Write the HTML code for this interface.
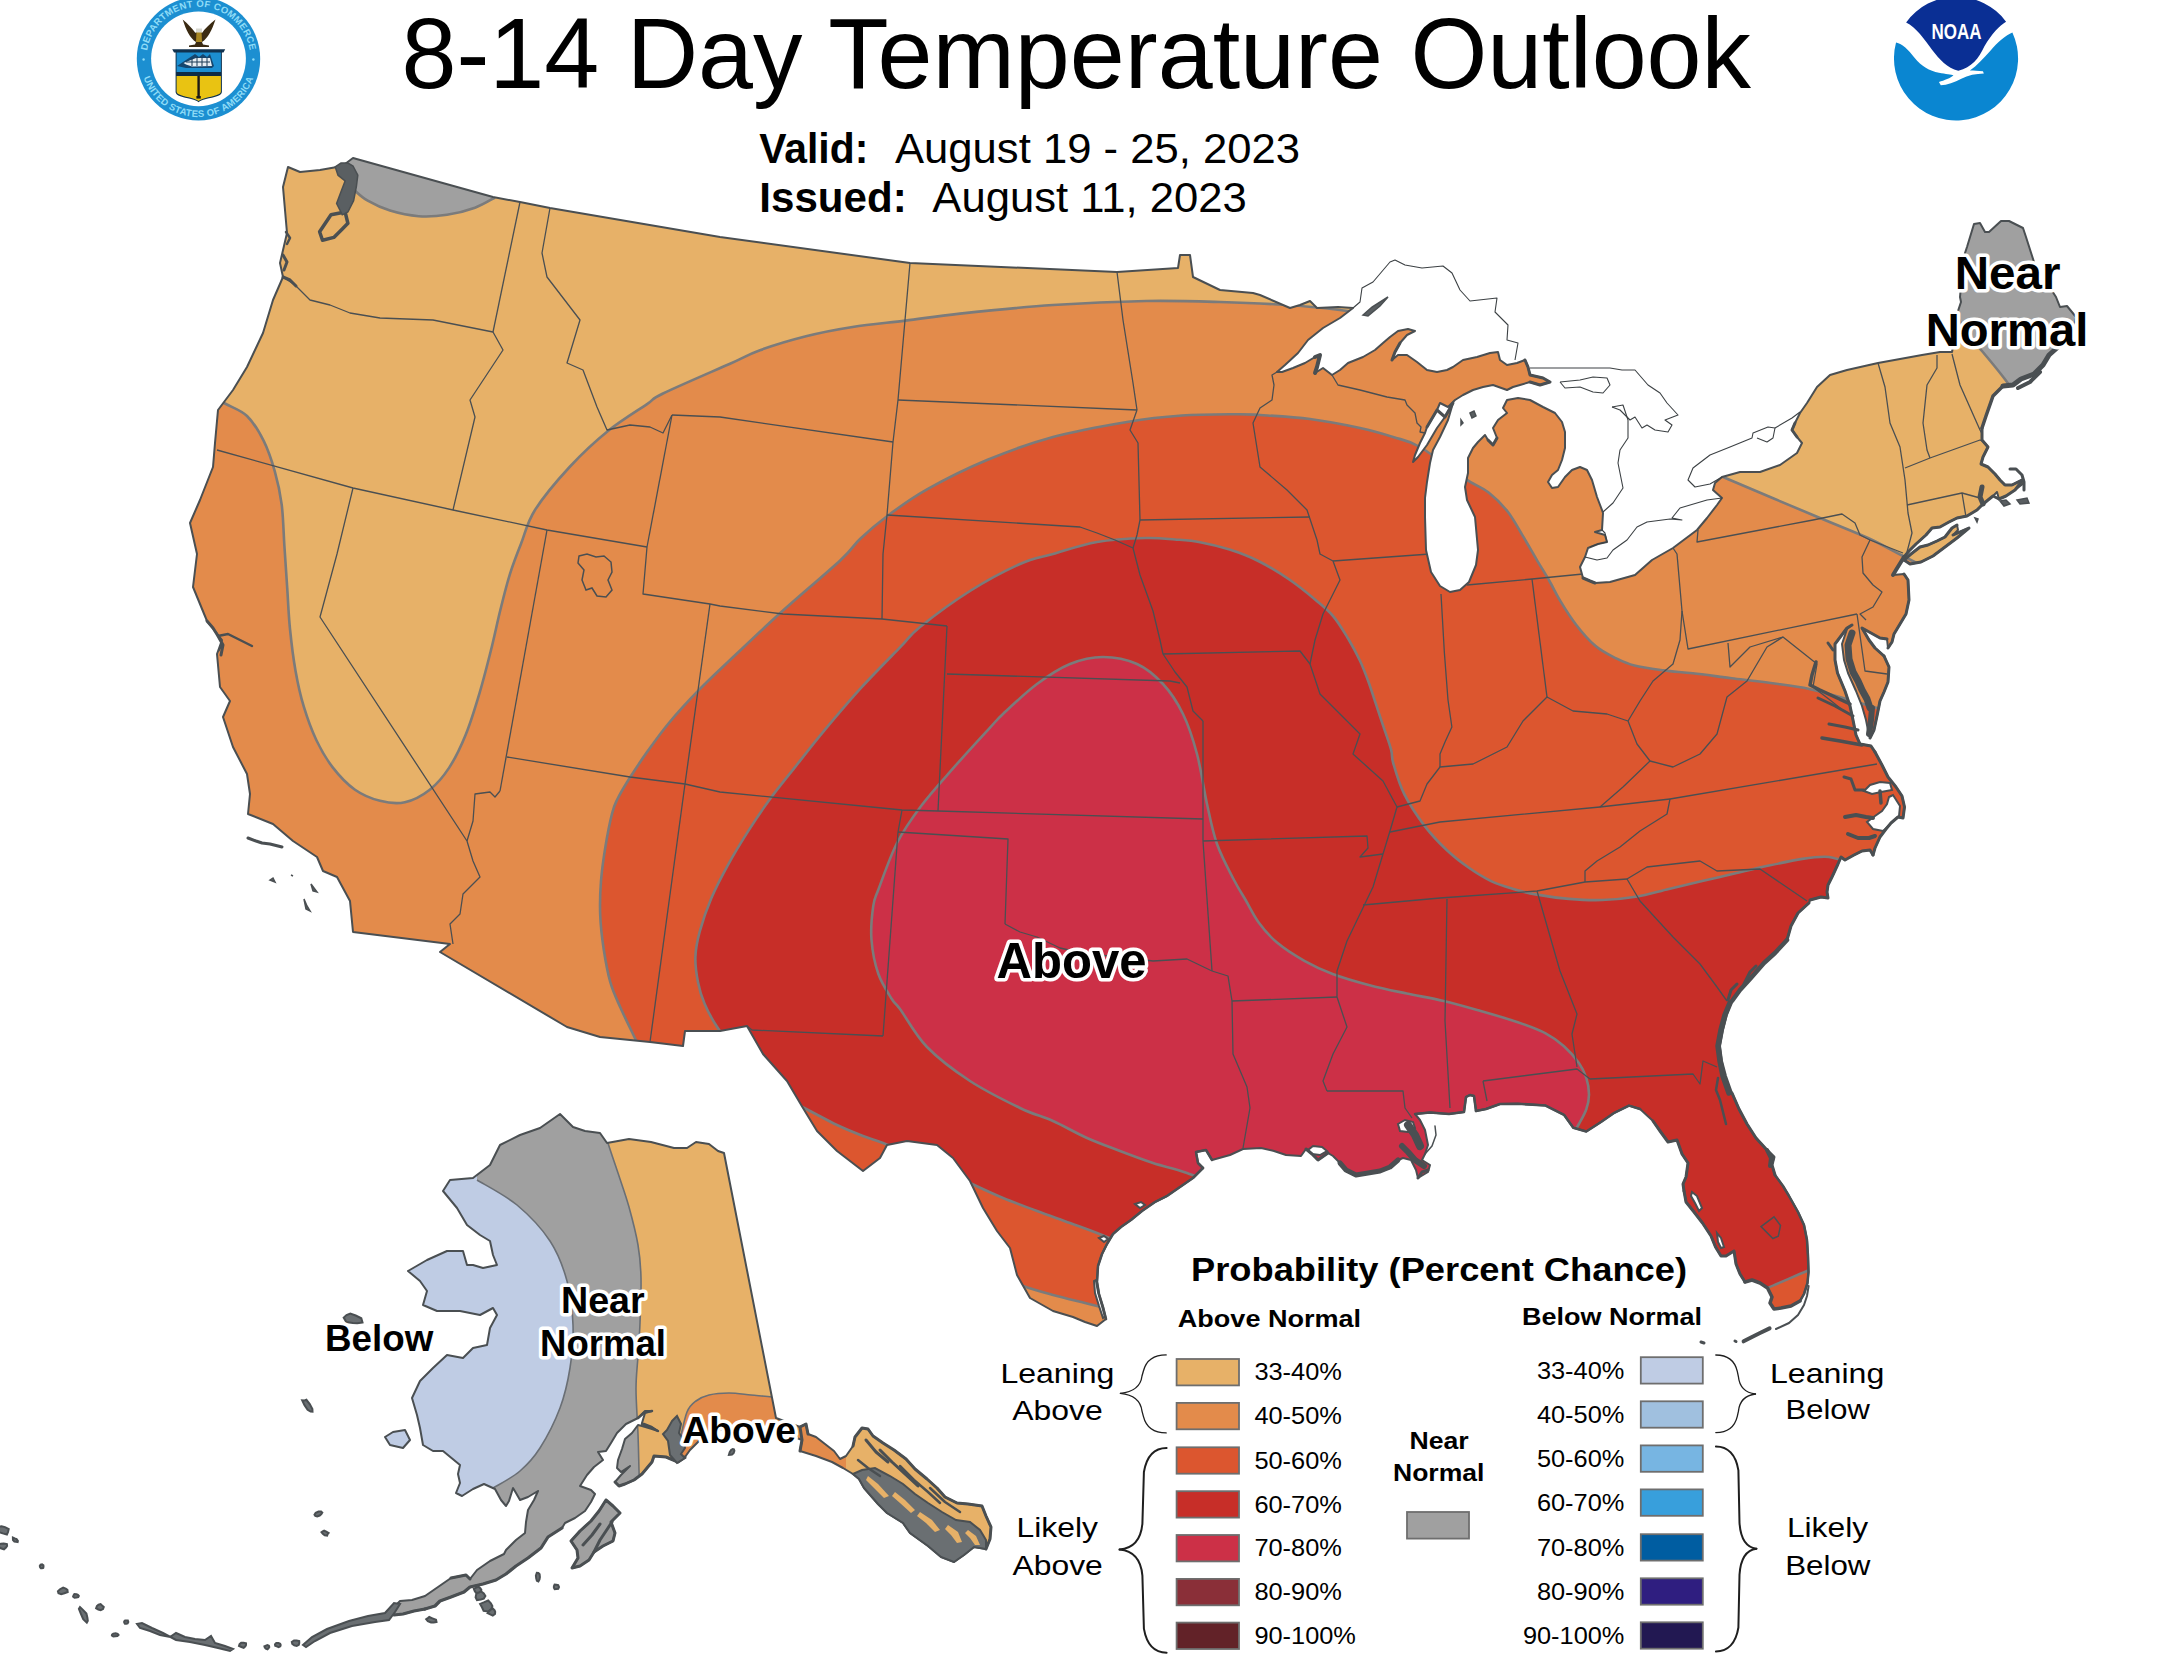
<!DOCTYPE html>
<html><head><meta charset="utf-8"><title>8-14 Day Temperature Outlook</title>
<style>html,body{margin:0;padding:0;background:#fff;}body{width:2160px;height:1662px;overflow:hidden;}svg{display:block;}text{font-family:"Liberation Sans",sans-serif;}.b{font-weight:bold;}.halo{paint-order:stroke fill;stroke:#fff;stroke-width:7px;stroke-linejoin:round;}</style></head><body>
<svg width="2160" height="1662" viewBox="0 0 2160 1662">
<rect width="2160" height="1662" fill="#fff"/>
<defs>
<clipPath id="usc"><path d="M288,167 L300,172 L320,170 L337,167 L345,164 L353,158 L493,197 L520,202 L550,208 L720,237 L910,263 L1117,272 L1178,268 L1180,255 L1190,255 L1193,277 L1220,290 L1253,293 L1260,295 L1290,308 L1300,305 L1310,301 L1317,308 L1338,307 L1353,308 L1340,318 L1323,328 L1308,340 L1298,353 L1285,365 L1277,372 L1282,372 L1293,368 L1305,363 L1315,357 L1320,355 L1317,367 L1315,373 L1323,368 L1332,375 L1340,370 L1348,363 L1363,357 L1375,350 L1383,343 L1390,337 L1398,331 L1408,329 L1415,331 L1407,335 L1400,343 L1395,352 L1392,360 L1398,355 L1407,355 L1417,362 L1427,370 L1437,372 L1447,370 L1453,367 L1463,360 L1477,357 L1490,353 L1498,352 L1500,360 L1507,365 L1517,363 L1525,360 L1528,367 L1530,375 L1543,378 L1550,382 L1540,385 L1530,382 L1520,385 L1513,387 L1507,390 L1493,385 L1483,387 L1473,390 L1463,395 L1455,400 L1448,407 L1440,403 L1437,410 L1427,427 L1425,433 L1420,443 L1415,455 L1413,462 L1418,457 L1427,445 L1437,428 L1445,417 L1453,403 L1448,420 L1440,437 L1433,450 L1430,463 L1427,482 L1425,498 L1425,517 L1426,550 L1431,572 L1440,586 L1450,592 L1460,590 L1469,582 L1476,565 L1478,550 L1475,517 L1467,500 L1465,487 L1468,473 L1468,458 L1473,448 L1478,442 L1485,435 L1488,440 L1493,445 L1497,438 L1493,428 L1498,420 L1507,413 L1503,408 L1507,400 L1518,398 L1530,400 L1543,407 L1555,413 L1562,422 L1565,432 L1565,448 L1562,460 L1558,470 L1552,475 L1548,482 L1552,488 L1558,487 L1565,477 L1572,470 L1580,467 L1587,470 L1592,480 L1597,497 L1602,510 L1603,513 L1602,530 L1595,532 L1605,535 L1607,542 L1598,544 L1588,548 L1585,557 L1580,567 L1583,578 L1595,583 L1610,582 L1635,575 L1652,560 L1673,548 L1697,530 L1707,518 L1717,505 L1722,498 L1713,490 L1715,483 L1722,477 L1740,472 L1760,472 L1780,465 L1797,453 L1802,443 L1797,437 L1792,430 L1795,423 L1800,413 L1807,403 L1817,387 L1830,375 L1847,370 L1878,363 L1922,355 L1940,352 L1952,352 L1955,335 L1958,311 L1961,302 L1960,297 L1962,275 L1965,253 L1967,247 L1974,224 L1980,223 L1985,232 L1989,232 L2001,221 L2009,221 L2023,228 L2026,237 L2034,262 L2045,280 L2056,297 L2060,307 L2067,306 L2076,317 L2075,322 L2068,335 L2058,347 L2049,355 L2043,365 L2034,374 L2021,379 L2013,385 L2003,386 L1993,396 L1986,416 L1982,428 L1982,440 L1988,447 L1983,457 L1981,464 L1988,467 L1995,474 L2000,480 L2005,485 L2012,485 L2022,480 L2024,483 L2015,490 L2006,496 L1999,499 L1997,492 L1993,496 L1988,500 L1982,505 L1977,510 L1967,516 L1957,518 L1949,522 L1940,527 L1932,528 L1926,535 L1916,544 L1909,551 L1904,557 L1896,570 L1893,575 L1904,574 L1908,580 L1909,600 L1906,614 L1900,624 L1894,634 L1892,642 L1888,648 L1887,639 L1880,638 L1862,628 L1869,640 L1875,648 L1884,656 L1889,667 L1888,682 L1884,692 L1880,701 L1877,716 L1874,730 L1870,738 L1869,735 L1866,720 L1862,706 L1856,691 L1848,673 L1844,660 L1842,644 L1847,629 L1852,625 L1847,628 L1835,644 L1835,660 L1837.5,673 L1845,691 L1850,706 L1853,720 L1856,735 L1860,744 L1871,746 L1875,752 L1882,765 L1888,777 L1896,787 L1902,796 L1904.5,807 L1903,818 L1898,817 L1891,823 L1886,829 L1880,837 L1875,848 L1873,855 L1870,850 L1862,851 L1854,855 L1845,860 L1841,857 L1838,864 L1832,877 L1828,885 L1827,892 L1828,898 L1821,897 L1810,900 L1809,903 L1798,913 L1791,926 L1787,940 L1775,953 L1764,963 L1750,979 L1740,990 L1732,1001 L1727,1014 L1723,1030 L1720,1046 L1722,1061 L1726,1076 L1732,1093 L1739,1109 L1747,1124 L1756,1138 L1766,1149 L1774,1157 L1772,1165 L1775,1175 L1783,1186 L1789,1196 L1798,1212 L1804,1225 L1807,1240 L1808,1256 L1808.5,1272 L1807.5,1283 L1804,1294 L1800,1301 L1791,1306 L1781,1308 L1774,1309 L1770,1303 L1772,1297 L1767.5,1288 L1760,1283 L1752,1280 L1745,1282 L1740,1274 L1736,1264 L1734,1251 L1726,1256 L1721,1256 L1715.5,1247 L1711,1236 L1702.5,1223 L1694,1212 L1686,1202 L1684,1191 L1683,1184 L1686,1177 L1688,1163 L1682,1154 L1677,1140 L1668,1142 L1660,1131 L1653,1121 L1640,1109 L1629,1105.6 L1614,1113 L1601,1122 L1586.3,1131.5 L1573.3,1127.8 L1564,1114.8 L1545.6,1105.6 L1517.8,1103.7 L1500,1104 L1486,1109 L1476,1111 L1474,1096 L1470,1095 L1466,1097 L1464,1112 L1449,1114 L1430,1112.5 L1415,1114 L1420,1120 L1425,1130 L1428,1145 L1425,1154 L1422,1160 L1430,1165 L1428,1172 L1418,1178 L1416,1170 L1411,1160 L1403,1158 L1396,1161 L1390,1168 L1380,1171 L1368,1173 L1355,1175 L1345,1170 L1340,1163 L1333,1156 L1328,1153 L1318,1160 L1312,1154 L1306,1149 L1301,1156 L1286,1155 L1274,1151 L1261,1148 L1243,1149 L1230,1155 L1212,1160 L1206,1150 L1196,1152 L1198,1163 L1203,1168 L1193,1178 L1180,1187 L1167,1196 L1155,1202 L1142,1211 L1131,1220 L1121,1227 L1113,1234 L1107,1244 L1102,1254 L1098,1266 L1097,1282 L1099,1294 L1103,1307 L1106,1319 L1097,1326 L1085,1322 L1073,1317 L1053,1311 L1030,1298 L1017,1275 L1010,1248 L997,1231 L983,1208 L970,1181 L953,1158 L937,1145 L907,1141 L887,1145 L880,1158 L863,1171 L837,1151 L817,1131 L803,1108 L787,1081 L763,1054 L747,1026 L720,1031 L685,1031 L683,1046 L650,1042 L600,1037 L567,1027 L440,952 L450,944 L353,932 L350,901 L337,877 L323,871 L317,857 L293,841 L273,824 L248,814 L250,794 L247,774 L233,747 L223,717 L230,701 L220,687 L217,654 L222,640 L207,621 L193,587 L197,554 L190,523 L200,500 L213,467 L215,443 L218,410 L233,390 L247,367 L263,333 L273,300 L283,277 L280,263 L287,233 L283,187Z M1904,560 L1911,554 L1920,547 L1928,545 L1937,541 L1945,537 L1952,528 L1957,525 L1958,530 L1953,535 L1969,528 L1957,538 L1945,547 L1933,556 L1921,562 L1910,564Z "/></clipPath>
<clipPath id="akc"><path d="M560,1114 L573,1127 L585,1131 L600,1133 L607,1143 L629,1139 L651,1142 L674,1148 L687,1148 L696,1142 L709,1144 L718,1151 L724,1153 L776,1418 L800,1427 L806,1424 L808,1434 L816,1437 L825,1444 L834,1451 L840,1459 L846,1456 L853,1446 L855,1437 L862,1428 L868,1429 L873,1436 L883,1443 L894,1450 L906,1459 L915,1469 L927,1479 L937,1488 L945,1497 L957,1503 L968,1504 L982,1506 L986,1516 L991,1527 L990,1539 L986,1549 L974,1547 L964,1555 L954,1562 L941,1557 L928,1546 L910,1533 L903,1523 L887,1513 L878,1504 L864,1488 L859,1479 L853,1474 L843,1468 L832,1462 L816,1456 L800,1451 L802,1440 L797,1438 L780,1435 L760,1430 L740,1428 L720,1430 L700,1440 L690,1450 L685,1457 L678,1462 L666,1457 L654,1456 L652,1462 L647,1468 L642,1474 L634,1480 L625,1484 L619,1486 L615,1482 L621,1475 L630,1466 L621,1472 L617,1468 L618,1460 L622,1449 L625,1439 L632,1433 L638,1425 L642,1426 L652,1429 L658,1431 L652,1427 L642,1423 L645,1413 L652,1411 L645,1411 L638,1418 L636,1419 L626,1424 L617,1433 L611,1443 L606,1451 L598,1452 L603,1460 L594,1467 L587,1475 L580,1486 L591,1490 L595,1494 L591,1502 L585,1511 L575,1518 L565,1523 L562,1528 L548,1537 L541,1548 L528,1558 L516,1566 L506,1574 L496,1580 L483,1584 L470,1587 L464,1592 L451,1597 L440,1601 L435,1606 L425,1609 L414,1611 L403,1614 L394,1615 L392,1609 L400,1601 L412,1600 L425,1596 L438,1587 L451,1578 L466,1575 L470,1579 L477,1570 L490,1561 L504,1554 L506,1550 L516,1540 L525,1533 L526,1522 L528,1510 L534,1500 L538,1491 L528,1497 L520,1500 L516,1493 L513,1488 L509,1501 L506,1506 L501,1500 L495,1489 L484,1484 L473,1489 L462,1496 L456,1493 L460,1483 L458,1474 L460,1465 L443,1451 L433,1451 L423,1445 L420,1428 L417,1415 L412,1398 L420,1381 L433,1368 L447,1355 L463,1358 L473,1348 L487,1345 L490,1328 L497,1315 L493,1308 L480,1315 L460,1311 L437,1311 L423,1305 L427,1291 L420,1281 L408,1271 L427,1260 L447,1251 L463,1251 L467,1265 L473,1265 L483,1268 L497,1265 L493,1255 L490,1241 L480,1235 L467,1225 L457,1208 L443,1191 L450,1180 L473,1178 L490,1165 L500,1145 L520,1135 L540,1128Z M393,1432 L405,1430 L410,1440 L403,1448 L390,1445 L385,1437Z M606,1500 L613,1506 L620,1513 L611,1522 L615,1533 L613,1541 L603,1546 L594,1552 L589,1560 L580,1566 L572,1568 L578,1558 L577,1550 L571,1541 L580,1531 L591,1521 L599,1511Z "/></clipPath>
</defs>
<g clip-path="url(#usc)">
<rect x="150" y="120" width="1960" height="1250" fill="#E38B4B"/>
<path fill="#E7B168" d="M205,392 C208.3,393.9 217.9,399.5 224.9,403.5 C231.9,407.5 240.5,409.8 247,416 C253.5,422.2 259.1,431.7 263.7,440.9 C268.3,450.1 271.8,460.8 274.8,471.4 C277.8,482 280.1,492.2 281.7,504.6 C283.3,517 283.5,532.2 284.4,546 C285.3,559.8 286.3,573.8 287.2,587.6 C288.1,601.4 288.6,615.1 290,629 C291.4,642.9 293.2,657.8 295.5,670.7 C297.8,683.7 300.3,695.2 303.8,706.7 C307.3,718.2 311.5,729.9 316.3,740 C321.1,750.1 326.4,759.3 332.9,767.6 C339.3,775.9 347.1,784.2 355,789.7 C362.9,795.2 371.7,798.7 380,800.8 C388.3,802.9 396.6,804.1 404.9,802.2 C413.2,800.4 422.4,795.5 429.8,789.7 C437.2,783.9 443.2,776.8 449.2,767.6 C455.2,758.4 460.7,746.9 465.8,734.4 C470.9,721.9 475.5,706.6 479.6,692.8 C483.8,678.9 487.2,665.1 490.7,651.3 C494.2,637.5 497.2,622.7 500.4,609.8 C503.6,596.9 506.5,584.9 510,573.8 C513.5,562.7 517,553.9 521.2,543.3 C525.4,532.7 526.9,522.7 535,510 C543.1,497.3 557.4,480.2 569.6,467 C581.8,453.8 595.1,441.4 608,431 C620.9,420.6 637.5,410.6 646.7,404.4 C655.9,398.1 649.1,400.3 663,393.5 C676.9,386.7 713.8,370.9 730,363.7 C746.2,356.5 747.3,354.8 760,350.2 C772.7,345.6 790.6,340.2 806,336.3 C821.4,332.4 836,329.6 852.6,327 C869.2,324.4 887.5,322.8 905.4,320.6 C923.3,318.4 935.4,316.2 960,313.6 C984.6,311 1022,307.1 1053,305 C1084,302.9 1118.2,301.5 1146,301 C1173.8,300.5 1196.5,301.3 1220,302 C1243.5,302.7 1267,303.7 1287,305 C1307,306.3 1321.2,307.8 1340,310 C1358.8,312.2 1390,316.7 1400,318 L1400,100 L100,100 L100,385Z"/>
<path fill="#E7B168" d="M1700,466 C1703.8,467.8 1703,468.3 1723,477 C1743,485.7 1795.8,507.8 1820,518 C1844.2,528.2 1854.2,531.7 1868,538 C1881.8,544.3 1887.7,548.2 1903,556 C1918.3,563.8 1950.5,580.2 1960,585 L2160,585 L2160,100 L1700,100Z"/>
<path fill="#DC562F" d="M650,1070 C647.6,1064.9 640.5,1049.9 635.6,1039.5 C630.7,1029.1 624.6,1017 620.4,1007.5 C616.2,998 613.1,992 610.3,982.2 C607.5,972.4 605.3,959.7 603.6,948.5 C601.9,937.3 600.6,926 600.2,914.8 C599.8,903.5 600.1,892.2 601,881 C601.9,869.8 603.5,858.6 605.3,847.4 C607.1,836.2 610,821.6 612,813.7 C614,805.8 614.2,805.7 617,800 C619.8,794.3 623.9,787.2 628.9,779.3 C633.9,771.4 640,762 646.7,752.6 C653.4,743.2 660.3,733.4 668.9,723 C677.5,712.6 687.4,701.8 698.5,690.4 C709.6,679 722,667.6 735.6,654.8 C749.2,641.9 762.5,629.1 780,613.3 C797.5,597.5 827.4,572.4 840.7,560 C854,547.6 852.3,546.3 860,539 C867.7,531.7 875.8,524.5 887,516.2 C898.2,507.9 910.3,498.8 927,489.4 C943.7,480 966,468.7 987,460 C1008,451.3 1029.4,443.4 1053,437 C1076.6,430.6 1107,425.3 1128.5,421.7 C1150,418.1 1164.1,416.8 1182,415.5 C1199.9,414.2 1223,414.3 1236,414.2 C1249,414.1 1247.7,414.2 1260,415 C1272.3,415.8 1293.3,416.8 1310,419 C1326.7,421.2 1346.2,425 1360,428 C1373.8,431 1383,433.8 1393,437 C1403,440.2 1408,440 1420,447 C1432,454 1453.9,471.3 1465.3,478.9 C1476.7,486.5 1481.5,487 1488.6,492.5 C1495.7,498 1502.2,504.6 1508,512 C1513.8,519.5 1518.7,529.1 1523.6,537.2 C1528.5,545.3 1533,553.5 1537.2,560.6 C1541.4,567.7 1545,573.2 1548.9,580 C1552.8,586.8 1556.1,593.9 1560.6,601.4 C1565.1,608.9 1570.3,617.2 1576.1,624.7 C1581.9,632.2 1589.1,640.6 1595.6,646.1 C1602.1,651.6 1608.5,654.5 1615,657.8 C1621.5,661 1626.3,663.5 1634.4,665.6 C1642.5,667.7 1653.9,669.1 1663.6,670.4 C1673.3,671.7 1681.4,672 1692.8,673.3 C1704.2,674.6 1718.7,676.6 1731.7,678.2 C1744.7,679.8 1757.6,681.2 1770.6,683 C1783.5,684.8 1796.2,686.1 1809.4,688.9 C1822.6,691.7 1834.9,695.6 1850,700 C1865.1,704.4 1891.7,712.5 1900,715 L2100,715 L2100,1500 L650,1500Z"/>
<path fill="#C72E28" d="M760,1075 C755.8,1070.8 742.2,1058.2 735,1050 C727.8,1041.8 721.5,1033.7 716.5,1026 C711.5,1018.3 707.8,1011.3 704.7,1004 C701.6,996.7 699.5,990 698,982.2 C696.5,974.4 695.1,965.4 695.4,957 C695.7,948.6 697,941.5 699.7,931.7 C702.4,921.9 706.6,909.2 711.4,898 C716.2,886.8 722.1,875.5 728.3,864.3 C734.5,853.1 741.5,841.6 748.5,830.6 C755.5,819.6 762.7,809 770.4,798.5 C778.1,788 785.8,778.8 794.8,767.4 C803.8,756 813.3,743.7 824.4,730.4 C835.5,717.1 848.9,701.2 861.5,687.4 C874.1,673.6 890.2,657.5 900,647.4 C909.8,637.3 908.3,636.4 920,627 C931.7,617.6 953.3,601.5 970,591 C986.7,580.5 1006.2,570.2 1020,564 C1033.8,557.8 1040.2,557.7 1053,554 C1065.8,550.3 1081.5,544.7 1097,542 C1112.5,539.3 1133,538.4 1146,538 C1159,537.6 1166,538.8 1175,539.5 C1184,540.2 1190.9,540.5 1200,542.2 C1209.1,543.9 1219.7,546.4 1229.6,549.6 C1239.5,552.8 1249.4,556.5 1259.3,561.5 C1269.2,566.5 1279.5,572.9 1288.9,579.3 C1298.3,585.7 1308.2,593.8 1315.6,600 C1323,606.2 1327.9,609.9 1333.3,616.3 C1338.7,622.7 1343.6,631.1 1348.1,638.5 C1352.5,645.9 1356.5,653.3 1360,660.7 C1363.5,668.1 1366.2,675.6 1368.9,683 C1371.6,690.4 1373.8,697.8 1376.3,705.2 C1378.8,712.6 1381.2,720 1383.7,727.4 C1386.2,734.8 1389.5,743.6 1391.1,749.6 C1392.7,755.6 1391.1,755.8 1393.3,763.3 C1395.5,770.8 1399.2,784 1404.4,794.4 C1409.6,804.8 1417.4,816.3 1424.4,825.6 C1431.5,834.9 1439.3,843 1446.7,850 C1454.1,857 1461.5,862.6 1468.9,867.8 C1476.3,873 1483.7,877.6 1491.1,881.1 C1498.5,884.6 1505.9,886.7 1513.3,888.9 C1520.7,891.1 1526.3,892.7 1535.6,894.4 C1544.9,896.1 1557.8,898 1568.9,898.9 C1580,899.8 1591.1,900.4 1602.2,900 C1613.3,899.6 1624.5,898.6 1635.6,896.7 C1646.7,894.9 1657.8,891.5 1668.9,888.9 C1680,886.3 1691.1,883.7 1702.2,881.1 C1713.3,878.5 1724.5,875.9 1735.6,873.3 C1746.7,870.7 1757.8,868 1768.9,865.6 C1780,863.2 1793,860.4 1802.2,858.9 C1811.5,857.4 1818.5,856.7 1824.4,856.7 C1830.3,856.7 1828.5,856.7 1837.8,858.9 C1847.1,861.1 1873,868.1 1880,870 L2100,870 L2100,1500 L1140,1500 L1140,1250 C1132.8,1247.2 1108.7,1237.5 1097,1233 C1085.3,1228.5 1080,1226.7 1070,1223 C1060,1219.3 1048.2,1215.2 1037,1211 C1025.8,1206.8 1014.2,1202.7 1003,1198 C991.8,1193.3 982.2,1188.8 970,1183 C957.8,1177.2 944.5,1169.7 930,1163 C915.5,1156.3 894.2,1147.5 883,1143 C871.8,1138.5 870.7,1139 863,1136 C855.3,1133 845.8,1129.2 837,1125 C828.2,1120.8 822.8,1117.7 810,1111 C797.2,1104.3 768.3,1089.3 760,1085Z"/>
<path fill="#CC3047" d="M1230,1190 C1222.8,1187.2 1199.8,1177.5 1187,1173 C1174.2,1168.5 1164.2,1166.7 1153,1163 C1141.8,1159.3 1131,1155.2 1120,1151 C1109,1146.8 1098.2,1143 1087,1138 C1075.8,1133 1064.2,1126 1053,1121 C1041.8,1116 1033.8,1114.7 1020,1108 C1006.2,1101.3 985.5,1091.2 970,1081 C954.5,1070.8 938.7,1059 927,1047 C915.3,1035 905.9,1017 900,1009 C894.1,1001 895.4,1004.9 891.8,999 C888.2,993.1 881.7,983.6 878.3,973.8 C874.9,964 872.4,951.2 871.5,940 C870.6,928.8 872,914.9 873.2,906.4 C874.4,897.9 874.5,899.9 878.5,889.3 C882.5,878.7 889.9,856.9 897,843 C904.1,829.1 911.8,818.4 921.1,806 C930.4,793.6 941.2,781.9 952.6,768.9 C964,755.9 981.2,737.2 989.6,728.1 C998,719 995.1,721.4 1003,714 C1010.9,706.6 1025.8,692.3 1037,684 C1048.2,675.7 1059,668.5 1070,664 C1081,659.5 1091.8,657 1103,657 C1114.2,657 1127,659.5 1137,664 C1147,668.5 1155.3,675.7 1163,684 C1170.7,692.3 1177.3,702.3 1183,714 C1188.7,725.7 1193,739 1197,754 C1201,769 1203.7,789 1207,804 C1210.3,819 1212.5,831.3 1217,844 C1221.5,856.7 1229.2,870.7 1234,880 C1238.8,889.3 1241.5,893 1245.6,900 C1249.7,907 1253.3,915.1 1258.5,922.2 C1263.7,929.3 1269.3,936.1 1277,942.6 C1284.7,949.1 1295.5,955.9 1304.8,961.1 C1314.1,966.3 1321.8,970 1332.6,974 C1343.4,978 1357.2,982 1369.6,985.2 C1381.9,988.5 1394.3,990.9 1406.7,993.5 C1419.1,996.1 1431.4,998.1 1443.7,1001 C1456,1003.9 1468.4,1007.5 1480.7,1011 C1493,1014.5 1507,1018.5 1517.8,1022.2 C1528.6,1025.9 1537.9,1029.3 1545.6,1033.3 C1553.3,1037.3 1558.5,1041.3 1564,1046.3 C1569.5,1051.2 1575.2,1057.8 1578.9,1063 C1582.6,1068.2 1584.6,1072.6 1586.3,1077.8 C1588,1083 1589,1089.2 1589,1094.4 C1589,1099.7 1588,1104.4 1586.3,1109.3 C1584.6,1114.2 1582,1118.5 1578.9,1124 C1575.9,1129.5 1569.8,1139 1568,1142 L1568,1250 L1230,1250Z"/>
<path fill="#DC562F" d="M1740,1298 C1744.5,1296.3 1755.8,1292.5 1767,1288 C1778.2,1283.5 1796.5,1275.3 1807,1271 C1817.5,1266.7 1826.2,1263.5 1830,1262 L1830,1350 L1740,1350Z"/>
<path fill="#E38B4B" d="M980,1270 C987.2,1272.7 1010.8,1281.8 1023,1286 C1035.2,1290.2 1041.3,1291.8 1053,1295 C1064.7,1298.2 1080.2,1301.7 1093,1305 C1105.8,1308.3 1123.8,1313.3 1130,1315 L1130,1400 L980,1400Z"/>
<path fill="#A0A0A0" d="M495,197.5 C491.7,199.2 483,204.8 475,207.7 C467,210.6 456.4,213.4 447,214.8 C437.6,216.2 428.1,216.9 418.6,216.2 C409.1,215.5 398.5,213.2 390,210.6 C381.5,208 373.8,204.2 367.7,200.7 C361.6,197.2 357.4,192.8 353.6,189.4 C349.8,186 346.4,181.6 345,180 L345,160 L353,158 L495,197.5Z"/>
<path fill="#A0A0A0" d="M1945,285 C1947.2,290.5 1953.5,308.8 1958,318 C1962.5,327.2 1968,334.5 1972,340 C1976,345.5 1976.7,344.7 1982,351 C1987.3,357.3 1997.7,369.8 2004,378 C2010.3,386.2 2017.3,396.3 2020,400 L2160,400 L2160,200 L1945,200Z"/>
<g fill="none" stroke="#7b7b7b" stroke-width="2.6" stroke-linejoin="round">
<path d="M205,392 C208.3,393.9 217.9,399.5 224.9,403.5 C231.9,407.5 240.5,409.8 247,416 C253.5,422.2 259.1,431.7 263.7,440.9 C268.3,450.1 271.8,460.8 274.8,471.4 C277.8,482 280.1,492.2 281.7,504.6 C283.3,517 283.5,532.2 284.4,546 C285.3,559.8 286.3,573.8 287.2,587.6 C288.1,601.4 288.6,615.1 290,629 C291.4,642.9 293.2,657.8 295.5,670.7 C297.8,683.7 300.3,695.2 303.8,706.7 C307.3,718.2 311.5,729.9 316.3,740 C321.1,750.1 326.4,759.3 332.9,767.6 C339.3,775.9 347.1,784.2 355,789.7 C362.9,795.2 371.7,798.7 380,800.8 C388.3,802.9 396.6,804.1 404.9,802.2 C413.2,800.4 422.4,795.5 429.8,789.7 C437.2,783.9 443.2,776.8 449.2,767.6 C455.2,758.4 460.7,746.9 465.8,734.4 C470.9,721.9 475.5,706.6 479.6,692.8 C483.8,678.9 487.2,665.1 490.7,651.3 C494.2,637.5 497.2,622.7 500.4,609.8 C503.6,596.9 506.5,584.9 510,573.8 C513.5,562.7 517,553.9 521.2,543.3 C525.4,532.7 526.9,522.7 535,510 C543.1,497.3 557.4,480.2 569.6,467 C581.8,453.8 595.1,441.4 608,431 C620.9,420.6 637.5,410.6 646.7,404.4 C655.9,398.1 649.1,400.3 663,393.5 C676.9,386.7 713.8,370.9 730,363.7 C746.2,356.5 747.3,354.8 760,350.2 C772.7,345.6 790.6,340.2 806,336.3 C821.4,332.4 836,329.6 852.6,327 C869.2,324.4 887.5,322.8 905.4,320.6 C923.3,318.4 935.4,316.2 960,313.6 C984.6,311 1022,307.1 1053,305 C1084,302.9 1118.2,301.5 1146,301 C1173.8,300.5 1196.5,301.3 1220,302 C1243.5,302.7 1267,303.7 1287,305 C1307,306.3 1321.2,307.8 1340,310 C1358.8,312.2 1390,316.7 1400,318"/>
<path d="M1700,466 C1703.8,467.8 1703,468.3 1723,477 C1743,485.7 1795.8,507.8 1820,518 C1844.2,528.2 1854.2,531.7 1868,538 C1881.8,544.3 1887.7,548.2 1903,556 C1918.3,563.8 1950.5,580.2 1960,585"/>
<path d="M650,1070 C647.6,1064.9 640.5,1049.9 635.6,1039.5 C630.7,1029.1 624.6,1017 620.4,1007.5 C616.2,998 613.1,992 610.3,982.2 C607.5,972.4 605.3,959.7 603.6,948.5 C601.9,937.3 600.6,926 600.2,914.8 C599.8,903.5 600.1,892.2 601,881 C601.9,869.8 603.5,858.6 605.3,847.4 C607.1,836.2 610,821.6 612,813.7 C614,805.8 614.2,805.7 617,800 C619.8,794.3 623.9,787.2 628.9,779.3 C633.9,771.4 640,762 646.7,752.6 C653.4,743.2 660.3,733.4 668.9,723 C677.5,712.6 687.4,701.8 698.5,690.4 C709.6,679 722,667.6 735.6,654.8 C749.2,641.9 762.5,629.1 780,613.3 C797.5,597.5 827.4,572.4 840.7,560 C854,547.6 852.3,546.3 860,539 C867.7,531.7 875.8,524.5 887,516.2 C898.2,507.9 910.3,498.8 927,489.4 C943.7,480 966,468.7 987,460 C1008,451.3 1029.4,443.4 1053,437 C1076.6,430.6 1107,425.3 1128.5,421.7 C1150,418.1 1164.1,416.8 1182,415.5 C1199.9,414.2 1223,414.3 1236,414.2 C1249,414.1 1247.7,414.2 1260,415 C1272.3,415.8 1293.3,416.8 1310,419 C1326.7,421.2 1346.2,425 1360,428 C1373.8,431 1383,433.8 1393,437 C1403,440.2 1408,440 1420,447 C1432,454 1453.9,471.3 1465.3,478.9 C1476.7,486.5 1481.5,487 1488.6,492.5 C1495.7,498 1502.2,504.6 1508,512 C1513.8,519.5 1518.7,529.1 1523.6,537.2 C1528.5,545.3 1533,553.5 1537.2,560.6 C1541.4,567.7 1545,573.2 1548.9,580 C1552.8,586.8 1556.1,593.9 1560.6,601.4 C1565.1,608.9 1570.3,617.2 1576.1,624.7 C1581.9,632.2 1589.1,640.6 1595.6,646.1 C1602.1,651.6 1608.5,654.5 1615,657.8 C1621.5,661 1626.3,663.5 1634.4,665.6 C1642.5,667.7 1653.9,669.1 1663.6,670.4 C1673.3,671.7 1681.4,672 1692.8,673.3 C1704.2,674.6 1718.7,676.6 1731.7,678.2 C1744.7,679.8 1757.6,681.2 1770.6,683 C1783.5,684.8 1796.2,686.1 1809.4,688.9 C1822.6,691.7 1834.9,695.6 1850,700 C1865.1,704.4 1891.7,712.5 1900,715"/>
<path d="M980,1270 C987.2,1272.7 1010.8,1281.8 1023,1286 C1035.2,1290.2 1041.3,1291.8 1053,1295 C1064.7,1298.2 1080.2,1301.7 1093,1305 C1105.8,1308.3 1123.8,1313.3 1130,1315"/>
<path d="M1740,1298 C1744.5,1296.3 1755.8,1292.5 1767,1288 C1778.2,1283.5 1796.5,1275.3 1807,1271 C1817.5,1266.7 1826.2,1263.5 1830,1262"/>
<path d="M760,1075 C755.8,1070.8 742.2,1058.2 735,1050 C727.8,1041.8 721.5,1033.7 716.5,1026 C711.5,1018.3 707.8,1011.3 704.7,1004 C701.6,996.7 699.5,990 698,982.2 C696.5,974.4 695.1,965.4 695.4,957 C695.7,948.6 697,941.5 699.7,931.7 C702.4,921.9 706.6,909.2 711.4,898 C716.2,886.8 722.1,875.5 728.3,864.3 C734.5,853.1 741.5,841.6 748.5,830.6 C755.5,819.6 762.7,809 770.4,798.5 C778.1,788 785.8,778.8 794.8,767.4 C803.8,756 813.3,743.7 824.4,730.4 C835.5,717.1 848.9,701.2 861.5,687.4 C874.1,673.6 890.2,657.5 900,647.4 C909.8,637.3 908.3,636.4 920,627 C931.7,617.6 953.3,601.5 970,591 C986.7,580.5 1006.2,570.2 1020,564 C1033.8,557.8 1040.2,557.7 1053,554 C1065.8,550.3 1081.5,544.7 1097,542 C1112.5,539.3 1133,538.4 1146,538 C1159,537.6 1166,538.8 1175,539.5 C1184,540.2 1190.9,540.5 1200,542.2 C1209.1,543.9 1219.7,546.4 1229.6,549.6 C1239.5,552.8 1249.4,556.5 1259.3,561.5 C1269.2,566.5 1279.5,572.9 1288.9,579.3 C1298.3,585.7 1308.2,593.8 1315.6,600 C1323,606.2 1327.9,609.9 1333.3,616.3 C1338.7,622.7 1343.6,631.1 1348.1,638.5 C1352.5,645.9 1356.5,653.3 1360,660.7 C1363.5,668.1 1366.2,675.6 1368.9,683 C1371.6,690.4 1373.8,697.8 1376.3,705.2 C1378.8,712.6 1381.2,720 1383.7,727.4 C1386.2,734.8 1389.5,743.6 1391.1,749.6 C1392.7,755.6 1391.1,755.8 1393.3,763.3 C1395.5,770.8 1399.2,784 1404.4,794.4 C1409.6,804.8 1417.4,816.3 1424.4,825.6 C1431.5,834.9 1439.3,843 1446.7,850 C1454.1,857 1461.5,862.6 1468.9,867.8 C1476.3,873 1483.7,877.6 1491.1,881.1 C1498.5,884.6 1505.9,886.7 1513.3,888.9 C1520.7,891.1 1526.3,892.7 1535.6,894.4 C1544.9,896.1 1557.8,898 1568.9,898.9 C1580,899.8 1591.1,900.4 1602.2,900 C1613.3,899.6 1624.5,898.6 1635.6,896.7 C1646.7,894.9 1657.8,891.5 1668.9,888.9 C1680,886.3 1691.1,883.7 1702.2,881.1 C1713.3,878.5 1724.5,875.9 1735.6,873.3 C1746.7,870.7 1757.8,868 1768.9,865.6 C1780,863.2 1793,860.4 1802.2,858.9 C1811.5,857.4 1818.5,856.7 1824.4,856.7 C1830.3,856.7 1828.5,856.7 1837.8,858.9 C1847.1,861.1 1873,868.1 1880,870"/>
<path d="M760,1085 C768.3,1089.3 797.2,1104.3 810,1111 C822.8,1117.7 828.2,1120.8 837,1125 C845.8,1129.2 855.3,1133 863,1136 C870.7,1139 871.8,1138.5 883,1143 C894.2,1147.5 915.5,1156.3 930,1163 C944.5,1169.7 957.8,1177.2 970,1183 C982.2,1188.8 991.8,1193.3 1003,1198 C1014.2,1202.7 1025.8,1206.8 1037,1211 C1048.2,1215.2 1060,1219.3 1070,1223 C1080,1226.7 1085.3,1228.5 1097,1233 C1108.7,1237.5 1132.8,1247.2 1140,1250"/>
<path d="M1230,1190 C1222.8,1187.2 1199.8,1177.5 1187,1173 C1174.2,1168.5 1164.2,1166.7 1153,1163 C1141.8,1159.3 1131,1155.2 1120,1151 C1109,1146.8 1098.2,1143 1087,1138 C1075.8,1133 1064.2,1126 1053,1121 C1041.8,1116 1033.8,1114.7 1020,1108 C1006.2,1101.3 985.5,1091.2 970,1081 C954.5,1070.8 938.7,1059 927,1047 C915.3,1035 905.9,1017 900,1009 C894.1,1001 895.4,1004.9 891.8,999 C888.2,993.1 881.7,983.6 878.3,973.8 C874.9,964 872.4,951.2 871.5,940 C870.6,928.8 872,914.9 873.2,906.4 C874.4,897.9 874.5,899.9 878.5,889.3 C882.5,878.7 889.9,856.9 897,843 C904.1,829.1 911.8,818.4 921.1,806 C930.4,793.6 941.2,781.9 952.6,768.9 C964,755.9 981.2,737.2 989.6,728.1 C998,719 995.1,721.4 1003,714 C1010.9,706.6 1025.8,692.3 1037,684 C1048.2,675.7 1059,668.5 1070,664 C1081,659.5 1091.8,657 1103,657 C1114.2,657 1127,659.5 1137,664 C1147,668.5 1155.3,675.7 1163,684 C1170.7,692.3 1177.3,702.3 1183,714 C1188.7,725.7 1193,739 1197,754 C1201,769 1203.7,789 1207,804 C1210.3,819 1212.5,831.3 1217,844 C1221.5,856.7 1229.2,870.7 1234,880 C1238.8,889.3 1241.5,893 1245.6,900 C1249.7,907 1253.3,915.1 1258.5,922.2 C1263.7,929.3 1269.3,936.1 1277,942.6 C1284.7,949.1 1295.5,955.9 1304.8,961.1 C1314.1,966.3 1321.8,970 1332.6,974 C1343.4,978 1357.2,982 1369.6,985.2 C1381.9,988.5 1394.3,990.9 1406.7,993.5 C1419.1,996.1 1431.4,998.1 1443.7,1001 C1456,1003.9 1468.4,1007.5 1480.7,1011 C1493,1014.5 1507,1018.5 1517.8,1022.2 C1528.6,1025.9 1537.9,1029.3 1545.6,1033.3 C1553.3,1037.3 1558.5,1041.3 1564,1046.3 C1569.5,1051.2 1575.2,1057.8 1578.9,1063 C1582.6,1068.2 1584.6,1072.6 1586.3,1077.8 C1588,1083 1589,1089.2 1589,1094.4 C1589,1099.7 1588,1104.4 1586.3,1109.3 C1584.6,1114.2 1582,1118.5 1578.9,1124 C1575.9,1129.5 1569.8,1139 1568,1142"/>
<path d="M1945,285 C1947.2,290.5 1953.5,308.8 1958,318 C1962.5,327.2 1968,334.5 1972,340 C1976,345.5 1976.7,344.7 1982,351 C1987.3,357.3 1997.7,369.8 2004,378 C2010.3,386.2 2017.3,396.3 2020,400"/>
<path d="M495,197.5 C491.7,199.2 483,204.8 475,207.7 C467,210.6 456.4,213.4 447,214.8 C437.6,216.2 428.1,216.9 418.6,216.2 C409.1,215.5 398.5,213.2 390,210.6 C381.5,208 373.8,204.2 367.7,200.7 C361.6,197.2 357.4,192.8 353.6,189.4 C349.8,186 346.4,181.6 345,180"/>
</g>
<g fill="none" stroke="#4a4f52" stroke-width="1.3" stroke-linejoin="round">
<path d="M283,277 L295,285 L310,300 L330,305 L350,313 L380,318 L433,320 L493,332"/>
<path d="M520,202 L493,332"/>
<path d="M550,208 L542,253 L547,277 L580,320 L567,363 L583,370 L597,407 L607,430 L630,425 L650,427 L663,433 L672,415"/>
<path d="M672,415 L647,547"/>
<path d="M672,415 L720,417 L893,442"/>
<path d="M493,332 L503,350 L470,400 L475,417 L453,510"/>
<path d="M217,450 L353,488 L453,510 L547,530 L647,547"/>
<path d="M353,488 L337,554 L320,617 L467,841"/>
<path d="M547,530 L500,791"/>
<path d="M467,841 L473,821 L475,794 L490,792 L495,797 L500,791"/>
<path d="M467,841 L473,861 L480,877 L463,894 L460,914 L450,924 L453,944"/>
<path d="M507,757 L630,777 L685,784 L720,792 L902,810 L938,811 L1203,819"/>
<path d="M647,547 L643,594 L710,604 L720,606 L783,614 L882,619 L947,626"/>
<path d="M710,604 L685,784"/>
<path d="M685,784 L650,1042"/>
<path d="M893,442 L887,515 L883,554 L882,619"/>
<path d="M910,263 L898,400 L893,442"/>
<path d="M898,400 L1137,410"/>
<path d="M1117,272 L1123,320 L1133,383 L1137,410"/>
<path d="M1137,410 L1130,430 L1138,443 L1140,520"/>
<path d="M887,515 L1080,527 L1097,533 L1115,540 L1133,548"/>
<path d="M1140,520 L1137,535 L1133,548"/>
<path d="M1133,548 L1140,575 L1153,611 L1160,640 L1163,654 L1175,672 L1187,687 L1193,711 L1203,721"/>
<path d="M1140,520 L1310,517"/>
<path d="M1163,654 L1300,651 L1310,664"/>
<path d="M947,674 L1170,681 L1180,683"/>
<path d="M947,626 L938,811"/>
<path d="M1203,721 L1203,841"/>
<path d="M1203,841 L1212,971"/>
<path d="M1203,841 L1367,836 L1368,848 L1360,857 L1383,854"/>
<path d="M898,832 L1008,839 L1005,924"/>
<path d="M1005,924 L1020,932 L1037,937 L1060,948 L1087,954 L1120,957 L1153,961 L1187,959 L1212,971"/>
<path d="M898,832 L883,1036"/>
<path d="M747,1026 L752,1030 L883,1036"/>
<path d="M902,810 L898,832"/>
<path d="M1212,971 L1228,976 L1232,1001 L1233,1054 L1247,1087 L1250,1108 L1243,1148"/>
<path d="M1232,1001 L1337,997"/>
<path d="M1277,372 L1272,375 L1274,385 L1272,400 L1260,408 L1253,423 L1260,467 L1287,490 L1307,510 L1317,540 L1320,554 L1333,561 L1340,580 L1330,600 L1323,614 L1315,640 L1310,664 L1320,694 L1347,721 L1360,734 L1353,754 L1383,781 L1397,807 L1390,831 L1383,854 L1373,887 L1360,914 L1347,941 L1337,971 L1337,997 L1347,1027 L1333,1054 L1323,1081 L1327,1091"/>
<path d="M1327,1091 L1403,1091 L1405,1108 L1412,1118"/>
<path d="M1333,561 L1430,554"/>
<path d="M1332,375 L1338,385 L1360,390 L1387,397 L1405,400 L1407,405 L1415,413 L1417,423 L1421,427 L1420,432 L1425,433"/>
<path d="M1441,594 L1444.4,653 L1448,700 L1451.9,727 L1445,742 L1440,754 L1440,767"/>
<path d="M1397,807 L1420,801 L1427,784 L1440,767 L1473,764 L1507,747 L1523,721 L1547,697 L1573,711 L1607,714 L1628,721"/>
<path d="M1532,579 L1547,697"/>
<path d="M1467,585 L1532,579 L1583,574"/>
<path d="M1673,548 L1677,554 L1682,611"/>
<path d="M1682,611 L1680,640 L1673,664 L1653,681 L1640,701 L1628,721"/>
<path d="M1628,721 L1637,744 L1650,761"/>
<path d="M1650,761 L1673,767 L1700,754 L1717,734 L1727,697 L1747,681 L1767,647 L1783,637"/>
<path d="M1682,611 L1688,649 L1857,614"/>
<path d="M1728,643 L1730,667 L1750,647 L1783,637 L1817,664 L1813,687 L1830,700 L1845,712"/>
<path d="M1870,540 L1862,557 L1863,573 L1873,585 L1882,592 L1873,607 L1860,614 L1866,620"/>
<path d="M1857,614 L1865,671 L1887,674"/>
<path d="M1698,530 L1697,542 L1813,520 L1842,514 L1855,523 L1860,535 L1870,540"/>
<path d="M1870,540 L1903,553"/>
<path d="M1878,363 L1885,387 L1890,423 L1900,447 L1905,480 L1908,513 L1912,533 L1907,552"/>
<path d="M1937,355 L1937,368 L1927,385 L1923,423 L1927,450 L1930,458"/>
<path d="M1952,354 L1960,385 L1980,430 L1987,443"/>
<path d="M1905,468 L1930,458 L1980,440 L1987,443"/>
<path d="M1907,505 L1962,493 L1980,498"/>
<path d="M1962,493 L1967,523"/>
<path d="M1670,799 L1877,764"/>
<path d="M1390,832 L1440,822 L1600,807 L1670,799"/>
<path d="M1650,761 L1623,787 L1600,807"/>
<path d="M1670,799 L1667,814 L1640,831 L1620,847 L1597,861 L1585,871 L1585,882"/>
<path d="M1363,905 L1440,898 L1537,891 L1585,882"/>
<path d="M1585,882 L1627,879 L1647,867 L1700,861 L1717,871 L1760,869 L1807,901"/>
<path d="M1627,879 L1640,901 L1673,937 L1700,964 L1717,987 L1727,1001"/>
<path d="M1537,891 L1560,971 L1577,1014 L1572,1034 L1577,1067"/>
<path d="M1447,899 L1445,1021 L1450,1108"/>
<path d="M1483,1081 L1577,1069 L1590,1079 L1693,1074 L1700,1084 L1703,1061 L1717,1067"/>
<path d="M1483,1081 L1487,1101"/>
</g>
<path d="M1864,791 L1870,785 L1880,782 L1890,783 L1892,790 L1881,792 L1872,794Z" fill="#fff" stroke="#4a4f52" stroke-width="2"/>
<path d="M1893,795 L1900,806 L1899,816 L1891,824 L1883,831 L1873,829 L1867,822 L1875,816 L1882,811 L1887,804 L1889,797Z" fill="#fff" stroke="#4a4f52" stroke-width="2"/>
<path d="M1398,1124 L1405,1120 L1413,1122 L1415,1128 L1408,1132 L1400,1131Z" fill="#fff" stroke="#4a4f52" stroke-width="2"/>
<path d="M1308,1150 L1313,1146 L1322,1147 L1327,1151 L1320,1155 L1312,1154Z" fill="#fff" stroke="#4a4f52" stroke-width="2"/>
<path d="M1135,1204 L1141,1202 L1145,1205 L1140,1208Z" fill="#fff" stroke="#4a4f52" stroke-width="2"/>
<path d="M1099,1238 L1104,1236 L1108,1239 L1104,1242Z" fill="#fff" stroke="#4a4f52" stroke-width="2"/>
<path d="M1096,1280 L1098,1292 L1102,1306 L1105,1317 L1103,1318 L1099,1306 L1095,1293 L1094,1281Z" fill="#fff" stroke="#4a4f52" stroke-width="2"/>
<path d="M1692,1192 L1697,1196 L1702,1208 L1699,1211 L1695,1203 L1691,1196Z" fill="#fff" stroke="#4a4f52" stroke-width="2"/>
<path d="M1717,1233 L1721,1238 L1724,1247 L1721,1248 L1718,1242Z" fill="#fff" stroke="#4a4f52" stroke-width="2"/>
<path d="M212,630 L217,634 L222,645 L219,650 L215,642Z" fill="#fff" stroke="#4a4f52" stroke-width="2"/>
<path d="M1761,1226.6 L1774,1216.8 L1780.5,1225.5 L1778.3,1236.3 L1772.9,1238.5Z" fill="none" stroke="#4a4f52" stroke-width="1.5"/>
<path d="M579,556 L587,554 L596,557 L604,556 L611,562 L612,572 L608,580 L612,590 L606,597 L597,596 L592,588 L586,590 L582,580 L584,570 L578,563Z" fill="none" stroke="#4a4f52" stroke-width="1.5"/>
</g>
<path d="M288,167 L300,172 L320,170 L337,167 L345,164 L353,158 L493,197 L520,202 L550,208 L720,237 L910,263 L1117,272 L1178,268 L1180,255 L1190,255 L1193,277 L1220,290 L1253,293 L1260,295 L1290,308 L1300,305 L1310,301 L1317,308 L1338,307 L1353,308 L1340,318 L1323,328 L1308,340 L1298,353 L1285,365 L1277,372 L1282,372 L1293,368 L1305,363 L1315,357 L1320,355 L1317,367 L1315,373 L1323,368 L1332,375 L1340,370 L1348,363 L1363,357 L1375,350 L1383,343 L1390,337 L1398,331 L1408,329 L1415,331 L1407,335 L1400,343 L1395,352 L1392,360 L1398,355 L1407,355 L1417,362 L1427,370 L1437,372 L1447,370 L1453,367 L1463,360 L1477,357 L1490,353 L1498,352 L1500,360 L1507,365 L1517,363 L1525,360 L1528,367 L1530,375 L1543,378 L1550,382 L1540,385 L1530,382 L1520,385 L1513,387 L1507,390 L1493,385 L1483,387 L1473,390 L1463,395 L1455,400 L1448,407 L1440,403 L1437,410 L1427,427 L1425,433 L1420,443 L1415,455 L1413,462 L1418,457 L1427,445 L1437,428 L1445,417 L1453,403 L1448,420 L1440,437 L1433,450 L1430,463 L1427,482 L1425,498 L1425,517 L1426,550 L1431,572 L1440,586 L1450,592 L1460,590 L1469,582 L1476,565 L1478,550 L1475,517 L1467,500 L1465,487 L1468,473 L1468,458 L1473,448 L1478,442 L1485,435 L1488,440 L1493,445 L1497,438 L1493,428 L1498,420 L1507,413 L1503,408 L1507,400 L1518,398 L1530,400 L1543,407 L1555,413 L1562,422 L1565,432 L1565,448 L1562,460 L1558,470 L1552,475 L1548,482 L1552,488 L1558,487 L1565,477 L1572,470 L1580,467 L1587,470 L1592,480 L1597,497 L1602,510 L1603,513 L1602,530 L1595,532 L1605,535 L1607,542 L1598,544 L1588,548 L1585,557 L1580,567 L1583,578 L1595,583 L1610,582 L1635,575 L1652,560 L1673,548 L1697,530 L1707,518 L1717,505 L1722,498 L1713,490 L1715,483 L1722,477 L1740,472 L1760,472 L1780,465 L1797,453 L1802,443 L1797,437 L1792,430 L1795,423 L1800,413 L1807,403 L1817,387 L1830,375 L1847,370 L1878,363 L1922,355 L1940,352 L1952,352 L1955,335 L1958,311 L1961,302 L1960,297 L1962,275 L1965,253 L1967,247 L1974,224 L1980,223 L1985,232 L1989,232 L2001,221 L2009,221 L2023,228 L2026,237 L2034,262 L2045,280 L2056,297 L2060,307 L2067,306 L2076,317 L2075,322 L2068,335 L2058,347 L2049,355 L2043,365 L2034,374 L2021,379 L2013,385 L2003,386 L1993,396 L1986,416 L1982,428 L1982,440 L1988,447 L1983,457 L1981,464 L1988,467 L1995,474 L2000,480 L2005,485 L2012,485 L2022,480 L2024,483 L2015,490 L2006,496 L1999,499 L1997,492 L1993,496 L1988,500 L1982,505 L1977,510 L1967,516 L1957,518 L1949,522 L1940,527 L1932,528 L1926,535 L1916,544 L1909,551 L1904,557 L1896,570 L1893,575 L1904,574 L1908,580 L1909,600 L1906,614 L1900,624 L1894,634 L1892,642 L1888,648 L1887,639 L1880,638 L1862,628 L1869,640 L1875,648 L1884,656 L1889,667 L1888,682 L1884,692 L1880,701 L1877,716 L1874,730 L1870,738 L1869,735 L1866,720 L1862,706 L1856,691 L1848,673 L1844,660 L1842,644 L1847,629 L1852,625 L1847,628 L1835,644 L1835,660 L1837.5,673 L1845,691 L1850,706 L1853,720 L1856,735 L1860,744 L1871,746 L1875,752 L1882,765 L1888,777 L1896,787 L1902,796 L1904.5,807 L1903,818 L1898,817 L1891,823 L1886,829 L1880,837 L1875,848 L1873,855 L1870,850 L1862,851 L1854,855 L1845,860 L1841,857 L1838,864 L1832,877 L1828,885 L1827,892 L1828,898 L1821,897 L1810,900 L1809,903 L1798,913 L1791,926 L1787,940 L1775,953 L1764,963 L1750,979 L1740,990 L1732,1001 L1727,1014 L1723,1030 L1720,1046 L1722,1061 L1726,1076 L1732,1093 L1739,1109 L1747,1124 L1756,1138 L1766,1149 L1774,1157 L1772,1165 L1775,1175 L1783,1186 L1789,1196 L1798,1212 L1804,1225 L1807,1240 L1808,1256 L1808.5,1272 L1807.5,1283 L1804,1294 L1800,1301 L1791,1306 L1781,1308 L1774,1309 L1770,1303 L1772,1297 L1767.5,1288 L1760,1283 L1752,1280 L1745,1282 L1740,1274 L1736,1264 L1734,1251 L1726,1256 L1721,1256 L1715.5,1247 L1711,1236 L1702.5,1223 L1694,1212 L1686,1202 L1684,1191 L1683,1184 L1686,1177 L1688,1163 L1682,1154 L1677,1140 L1668,1142 L1660,1131 L1653,1121 L1640,1109 L1629,1105.6 L1614,1113 L1601,1122 L1586.3,1131.5 L1573.3,1127.8 L1564,1114.8 L1545.6,1105.6 L1517.8,1103.7 L1500,1104 L1486,1109 L1476,1111 L1474,1096 L1470,1095 L1466,1097 L1464,1112 L1449,1114 L1430,1112.5 L1415,1114 L1420,1120 L1425,1130 L1428,1145 L1425,1154 L1422,1160 L1430,1165 L1428,1172 L1418,1178 L1416,1170 L1411,1160 L1403,1158 L1396,1161 L1390,1168 L1380,1171 L1368,1173 L1355,1175 L1345,1170 L1340,1163 L1333,1156 L1328,1153 L1318,1160 L1312,1154 L1306,1149 L1301,1156 L1286,1155 L1274,1151 L1261,1148 L1243,1149 L1230,1155 L1212,1160 L1206,1150 L1196,1152 L1198,1163 L1203,1168 L1193,1178 L1180,1187 L1167,1196 L1155,1202 L1142,1211 L1131,1220 L1121,1227 L1113,1234 L1107,1244 L1102,1254 L1098,1266 L1097,1282 L1099,1294 L1103,1307 L1106,1319 L1097,1326 L1085,1322 L1073,1317 L1053,1311 L1030,1298 L1017,1275 L1010,1248 L997,1231 L983,1208 L970,1181 L953,1158 L937,1145 L907,1141 L887,1145 L880,1158 L863,1171 L837,1151 L817,1131 L803,1108 L787,1081 L763,1054 L747,1026 L720,1031 L685,1031 L683,1046 L650,1042 L600,1037 L567,1027 L440,952 L450,944 L353,932 L350,901 L337,877 L323,871 L317,857 L293,841 L273,824 L248,814 L250,794 L247,774 L233,747 L223,717 L230,701 L220,687 L217,654 L222,640 L207,621 L193,587 L197,554 L190,523 L200,500 L213,467 L215,443 L218,410 L233,390 L247,367 L263,333 L273,300 L283,277 L280,263 L287,233 L283,187Z M1904,560 L1911,554 L1920,547 L1928,545 L1937,541 L1945,537 L1952,528 L1957,525 L1958,530 L1953,535 L1969,528 L1957,538 L1945,547 L1933,556 L1921,562 L1910,564Z " fill="none" stroke="#4a4f52" stroke-width="2" stroke-linejoin="round"/>
<g fill="none" stroke="#4a4f52" stroke-linejoin="round" stroke-linecap="round">
<path d="M331,214.8 L345.1,212 L347.9,223.3 L342.3,229 L333.8,237.4 L322.5,240.3 L319.6,231.8 L325.3,223.3 L331,214.8" stroke-width="3.5"/>
<path d="M283,277 L290,280 L296,286" stroke-width="3"/>
<path d="M283,255 L287,262 L284,270" stroke-width="3"/>
<path d="M286,232 L290,238 L287,244" stroke-width="2.5"/>
<path d="M207,621 L213,628 L218,636 L223,645 L221,655" stroke-width="3"/>
<path d="M218,636 L228,634 L240,640 L252,646" stroke-width="2.5"/>
<path d="M2068,335 L2058,347 L2049,355 L2043,365 L2034,374 L2021,379 L2013,385 L2003,386" stroke-width="5"/>
<path d="M2040,372 L2030,382 L2018,388" stroke-width="4"/>
<path d="M2003,386 L1993,396 L1986,416 L1982,428" stroke-width="3.5"/>
<path d="M1982,428 L1982,440 L1988,447 L1983,457 L1981,464 L1988,467 L1995,474 L2000,480 L2005,485 L2012,485 L2022,480" stroke-width="3"/>
<path d="M2024,490 L2024,482 L2022,475 L2016,469 L2010,469" stroke-width="3"/>
<path d="M2022,481 L2015,490 L2006,496 L1999,499" stroke-width="3"/>
<path d="M1982,487 L1980,497 L1983,504" stroke-width="5"/>
<path d="M1999,499 L1993,496 L1988,500 L1982,505 L1977,510 L1967,516 L1957,518 L1949,522 L1940,527 L1932,528 L1926,535 L1916,544 L1909,551 L1904,557" stroke-width="3"/>
<path d="M1904,560 L1911,554 L1920,547 L1928,545 L1937,541 L1945,537 L1952,528 L1957,525" stroke-width="3"/>
<path d="M1953,535 L1969,528 L1957,538 L1945,547 L1933,556 L1921,562 L1910,564 L1904,560" stroke-width="3"/>
<path d="M1904,557 L1896,570 L1893,575" stroke-width="4"/>
<path d="M1904,574 L1908,580 L1909,600 L1906,614 L1900,624 L1894,634 L1892,642 L1888,648" stroke-width="3"/>
<path d="M1887,639 L1880,638 L1862,628 L1869,640 L1875,648 L1884,656" stroke-width="3"/>
<path d="M1884,656 L1889,667 L1888,682 L1884,692 L1880,701 L1877,716 L1874,730 L1870,738" stroke-width="3"/>
<path d="M1872,708 L1871,720 L1869,734" stroke-width="6"/>
<path d="M1852,633 L1848,645 L1849,659 L1853,672 L1858,681 L1862,690 L1867,699 L1870,708" stroke-width="7"/>
<path d="M1852,625 L1847,628 L1835,644 L1835,660 L1837.5,673 L1845,691 L1850,706 L1853,720 L1856,735 L1860,744 L1871,746 L1875,752" stroke-width="3"/>
<path d="M1816,662 L1812,675 L1810,685 L1820,690 L1835,697 L1850,704" stroke-width="3.5"/>
<path d="M1818,698 L1835,706 L1853,716" stroke-width="3"/>
<path d="M1829,724 L1845,727 L1858,730" stroke-width="3"/>
<path d="M1822,738 L1840,741 L1862,745" stroke-width="3.5"/>
<path d="M1833,650 L1828,643" stroke-width="3"/>
<path d="M1845,817 L1856,815 L1866,817 L1873,818" stroke-width="4"/>
<path d="M1848,834 L1858,838 L1869,838 L1875,836" stroke-width="4"/>
<path d="M1844,777 L1851,779 L1855,790 L1864,790" stroke-width="3"/>
<path d="M1880,791 L1881,803" stroke-width="3.5"/>
<path d="M1875,752 L1882,765 L1888,777 L1896,787 L1902,796 L1904.5,807 L1903,818 L1898,817 L1891,823 L1886,829 L1880,837 L1875,848 L1873,855" stroke-width="3"/>
<path d="M1873,855 L1870,850 L1862,851 L1854,855 L1845,860 L1841,857 L1838,864 L1832,877 L1828,885 L1827,892 L1828,898 L1821,897 L1810,900" stroke-width="3"/>
<path d="M1809,903 L1798,913 L1791,926 L1787,940" stroke-width="3"/>
<path d="M1787,940 L1775,953 L1764,963 L1750,979 L1740,990 L1732,1001" stroke-width="4.5"/>
<path d="M1730,1003 L1725,1015 L1721,1030 L1718,1046 L1720,1061 L1723,1076 L1729,1093" stroke-width="5.5"/>
<path d="M1756,966 L1750,972 L1744,984" stroke-width="3"/>
<path d="M1737,984 L1731,990 L1728,1000" stroke-width="3"/>
<path d="M1732,1093 L1739,1109 L1747,1124 L1756,1138 L1766,1149 L1774,1157 L1772,1165 L1775,1175" stroke-width="3"/>
<path d="M1718,1078 L1716,1090 L1720,1100 L1723,1112 L1726,1124" stroke-width="2.5"/>
<path d="M1767,1150 L1771,1158 L1770,1166" stroke-width="4"/>
<path d="M1775,1175 L1783,1186 L1789,1196 L1798,1212 L1804,1225 L1807,1240 L1808,1256 L1808.5,1272 L1807.5,1283 L1804,1294 L1800,1301" stroke-width="2.5"/>
<path d="M1800,1301 L1791,1306 L1781,1308 L1774,1309 L1770,1303 L1772,1297 L1767.5,1288 L1760,1283 L1752,1280 L1745,1282" stroke-width="3.5"/>
<path d="M1745,1282 L1740,1274 L1736,1264 L1734,1251 L1726,1256 L1721,1256 L1715.5,1247 L1711,1236 L1702.5,1223 L1694,1212 L1686,1202 L1684,1191" stroke-width="3"/>
<path d="M1808.6,1286 L1807,1296 L1804,1305 L1798,1315 L1789,1323 L1776,1329" stroke-width="2"/>
<path d="M1769.6,1328.4 L1760,1333 L1752,1337 L1743.6,1341.3" stroke-width="4"/>
<path d="M1735,1341 L1736,1341.5" stroke-width="3"/>
<path d="M1701,1342 L1704,1343" stroke-width="3"/>
<path d="M1684,1191 L1683,1184 L1686,1177 L1688,1163 L1682,1154 L1677,1140 L1668,1142 L1660,1131 L1653,1121" stroke-width="3"/>
<path d="M1640,1109 L1629,1105.6 L1614,1113 L1601,1122 L1586.3,1131.5 L1573.3,1127.8 L1564,1114.8 L1545.6,1105.6 L1517.8,1103.7 L1500,1104 L1486,1109 L1476,1111" stroke-width="2.5"/>
<path d="M1476,1111 L1474,1096 L1470,1095 L1466,1097 L1464,1112 L1449,1114 L1430,1112.5 L1415,1114" stroke-width="2.5"/>
<path d="M1408,1125 L1415,1135 L1420,1146" stroke-width="8"/>
<path d="M1402,1146 L1408,1152 L1415,1160 L1424,1166" stroke-width="6"/>
<path d="M1435,1126 L1436,1135 L1432,1146 L1425,1154" stroke-width="1.5"/>
<path d="M1340,1163 L1346,1170 L1356,1175 L1368,1173 L1380,1171 L1390,1167 L1398,1160" stroke-width="5"/>
<path d="M1418,1178 L1422,1172 L1428,1170" stroke-width="3"/>
<path d="M1306,1149 L1312,1154 L1318,1160 L1328,1153" stroke-width="3"/>
<path d="M1212,1160 L1206,1150 L1196,1152 L1198,1163 L1203,1168" stroke-width="2.5"/>
<path d="M1203,1168 L1193,1178 L1180,1187 L1167,1196 L1155,1202 L1142,1211 L1131,1220 L1121,1227 L1113,1234 L1107,1244 L1102,1254 L1098,1266 L1097,1282 L1099,1294 L1103,1307 L1106,1319" stroke-width="2.5"/>
<path d="M1315,357 L1320,355 L1317,367 L1315,373" stroke-width="4"/>
<path d="M1392,360 L1395,352 L1400,343" stroke-width="3"/>
<path d="M1427,427 L1437,410 L1445,417 L1453,403" stroke-width="3"/>
<path d="M1525,360 L1528,367 L1530,375 L1543,378 L1550,382 L1540,385 L1530,382" stroke-width="3"/>
<path d="M1595,583 L1590,581 L1583,578" stroke-width="3"/>
<path d="M1488,440 L1493,445 L1497,438" stroke-width="3"/>
<path d="M1797,437 L1792,430 L1795,423" stroke-width="3"/>
<path d="M248,838 L256,841 L262,843 L270,844 L282,847" stroke-width="3"/>
</g>
<g fill="none" stroke="#3c4144" stroke-width="1.1" stroke-linejoin="round">
<path d="M1353,308 L1360,302 L1362,288 L1373,282 L1390,262 L1395,260 L1405,265 L1422,268 L1443,266 L1452,273 L1460,290 L1470,301 L1497,298 L1495,312 L1508,325 L1507,340 L1518,343 L1515,360"/>
<path d="M1530,368 L1580,368 L1610,368 L1622,370 L1635,370 L1648,385 L1660,393 L1667,403 L1678,415 L1665,420 L1672,425 L1668,432 L1655,430 L1647,425 L1642,428 L1635,417 L1630,420 L1620,410 L1612,407"/>
<path d="M1612,407 L1623,405 L1628,420 L1628,438 L1620,450 L1618,463 L1623,488 L1613,503 L1603,512"/>
<path d="M1560,382 L1580,380 L1593,377 L1607,378 L1610,385 L1603,393 L1593,392 L1580,387 L1565,388 L1560,382"/>
<path d="M1722,477 L1710,484 L1695,487 L1688,480 L1693,468 L1710,455 L1730,447 L1752,438 L1753,433 L1768,427 L1775,428 L1773,438 L1767,442 L1757,438"/>
<path d="M1775,428 L1792,418 L1800,412"/>
<path d="M1722,498 L1707,500 L1680,508 L1672,518 L1682,520 L1670,519 L1647,522 L1637,527 L1627,540 L1613,550 L1607,558 L1597,560 L1585,557"/>
<path d="M1602,530 L1605,533 L1607,542 L1598,544 L1590,547"/>
</g>
<g fill="#5a5f62" stroke="#4a4f52" stroke-width="1.5">
<path d="M335.2,166.8 L341,163 L347.9,163 L353,166 L357.8,175.2 L356.4,186.5 L353.6,200.7 L347.9,212 L342.3,214.8 L336.6,203.5 L340.8,192.2 L345.1,180.9 L338,175.2Z"/>
<path d="M1363,315 L1372,307 L1388,297 L1380,306 L1368,316Z"/>
<path d="M2000,501 L2006,500 L2010,504 L2004,506Z"/>
<path d="M2017,500 L2027,498 L2029,503 L2020,504Z"/>
<path d="M1975,518 L1978,519 L1977,522Z"/>
<path d="M270,880 L273,878 L275,882Z"/>
<path d="M311,884 L314,888 L317,892 L313,891Z"/>
<path d="M304,899 L307,906 L310,911 L306,909Z"/>
<path d="M291,875 L293,876Z"/>
<path d="M1470,413 L1474,411 L1476,416 L1472,418Z"/>
<path d="M1461,420 L1463,423 L1461,425Z"/>
</g>
<g clip-path="url(#akc)">
<rect x="0" y="1100" width="1000" height="562" fill="#BFCCE4"/>
<path fill="#A0A0A0" d="M477,1180 C483.7,1184.2 504.8,1194.8 517,1205 C529.2,1215.2 541.7,1228.3 550,1241 C558.3,1253.7 563.2,1267 567,1281 C570.8,1295 572.5,1310.5 573,1325 C573.5,1339.5 572.2,1354.2 570,1368 C567.8,1381.8 565,1394.7 560,1408 C555,1421.3 546.7,1437.5 540,1448 C533.3,1458.5 527.8,1464.3 520,1471 C512.2,1477.7 501.3,1483.2 493,1488 C484.7,1492.8 473.8,1498 470,1500 L380,1545 L300,1600 L300,1662 L1000,1662 L1000,1100 L477,1100Z"/>
<path fill="#E7B168" d="M607,1135 C607.2,1136.3 606.2,1136.7 608,1143 C609.8,1149.3 614.5,1162.3 618,1173 C621.5,1183.7 625.7,1195 629,1207 C632.3,1219 636,1233.2 638,1245 C640,1256.8 640.7,1265 641,1278 C641.3,1291 640.5,1310 640,1323 C639.5,1336 638.7,1345 638,1356 C637.3,1367 636,1376 636,1389 C636,1402 637.5,1420.5 638,1434 C638.5,1447.5 638.7,1459 639,1470 C639.3,1481 639.8,1495 640,1500 L640,1662 L1000,1662 L1000,1100 L607,1100Z"/>
<path fill="#E38B4B" d="M680,1440 C681.2,1435.3 684.3,1418.5 687,1412 C689.7,1405.5 692.3,1403.8 696,1401 C699.7,1398.2 703.5,1396.3 709,1395 C714.5,1393.7 722,1393 729,1393 C736,1393 743.8,1394.3 751,1395 C758.2,1395.7 765.5,1396.2 772,1397 C778.5,1397.8 787,1399.5 790,1400 L846,1440 L846,1480 L680,1480Z"/>
<g fill="none" stroke="#6a6f75" stroke-width="1.6">
<path d="M477,1180 C483.7,1184.2 504.8,1194.8 517,1205 C529.2,1215.2 541.7,1228.3 550,1241 C558.3,1253.7 563.2,1267 567,1281 C570.8,1295 572.5,1310.5 573,1325 C573.5,1339.5 572.2,1354.2 570,1368 C567.8,1381.8 565,1394.7 560,1408 C555,1421.3 546.7,1437.5 540,1448 C533.3,1458.5 527.8,1464.3 520,1471 C512.2,1477.7 501.3,1483.2 493,1488 C484.7,1492.8 473.8,1498 470,1500"/>
<path d="M607,1135 C607.2,1136.3 606.2,1136.7 608,1143 C609.8,1149.3 614.5,1162.3 618,1173 C621.5,1183.7 625.7,1195 629,1207 C632.3,1219 636,1233.2 638,1245 C640,1256.8 640.7,1265 641,1278 C641.3,1291 640.5,1310 640,1323 C639.5,1336 638.7,1345 638,1356 C637.3,1367 636,1376 636,1389 C636,1402 637.5,1420.5 638,1434 C638.5,1447.5 638.7,1459 639,1470 C639.3,1481 639.8,1495 640,1500"/>
<path d="M680,1440 C681.2,1435.3 684.3,1418.5 687,1412 C689.7,1405.5 692.3,1403.8 696,1401 C699.7,1398.2 703.5,1396.3 709,1395 C714.5,1393.7 722,1393 729,1393 C736,1393 743.8,1394.3 751,1395 C758.2,1395.7 765.5,1396.2 772,1397 C778.5,1397.8 787,1399.5 790,1400"/>
</g>
</g>
<path d="M560,1114 L573,1127 L585,1131 L600,1133 L607,1143 L629,1139 L651,1142 L674,1148 L687,1148 L696,1142 L709,1144 L718,1151 L724,1153 L776,1418 L800,1427 L806,1424 L808,1434 L816,1437 L825,1444 L834,1451 L840,1459 L846,1456 L853,1446 L855,1437 L862,1428 L868,1429 L873,1436 L883,1443 L894,1450 L906,1459 L915,1469 L927,1479 L937,1488 L945,1497 L957,1503 L968,1504 L982,1506 L986,1516 L991,1527 L990,1539 L986,1549 L974,1547 L964,1555 L954,1562 L941,1557 L928,1546 L910,1533 L903,1523 L887,1513 L878,1504 L864,1488 L859,1479 L853,1474 L843,1468 L832,1462 L816,1456 L800,1451 L802,1440 L797,1438 L780,1435 L760,1430 L740,1428 L720,1430 L700,1440 L690,1450 L685,1457 L678,1462 L666,1457 L654,1456 L652,1462 L647,1468 L642,1474 L634,1480 L625,1484 L619,1486 L615,1482 L621,1475 L630,1466 L621,1472 L617,1468 L618,1460 L622,1449 L625,1439 L632,1433 L638,1425 L642,1426 L652,1429 L658,1431 L652,1427 L642,1423 L645,1413 L652,1411 L645,1411 L638,1418 L636,1419 L626,1424 L617,1433 L611,1443 L606,1451 L598,1452 L603,1460 L594,1467 L587,1475 L580,1486 L591,1490 L595,1494 L591,1502 L585,1511 L575,1518 L565,1523 L562,1528 L548,1537 L541,1548 L528,1558 L516,1566 L506,1574 L496,1580 L483,1584 L470,1587 L464,1592 L451,1597 L440,1601 L435,1606 L425,1609 L414,1611 L403,1614 L394,1615 L392,1609 L400,1601 L412,1600 L425,1596 L438,1587 L451,1578 L466,1575 L470,1579 L477,1570 L490,1561 L504,1554 L506,1550 L516,1540 L525,1533 L526,1522 L528,1510 L534,1500 L538,1491 L528,1497 L520,1500 L516,1493 L513,1488 L509,1501 L506,1506 L501,1500 L495,1489 L484,1484 L473,1489 L462,1496 L456,1493 L460,1483 L458,1474 L460,1465 L443,1451 L433,1451 L423,1445 L420,1428 L417,1415 L412,1398 L420,1381 L433,1368 L447,1355 L463,1358 L473,1348 L487,1345 L490,1328 L497,1315 L493,1308 L480,1315 L460,1311 L437,1311 L423,1305 L427,1291 L420,1281 L408,1271 L427,1260 L447,1251 L463,1251 L467,1265 L473,1265 L483,1268 L497,1265 L493,1255 L490,1241 L480,1235 L467,1225 L457,1208 L443,1191 L450,1180 L473,1178 L490,1165 L500,1145 L520,1135 L540,1128Z M393,1432 L405,1430 L410,1440 L403,1448 L390,1445 L385,1437Z M606,1500 L613,1506 L620,1513 L611,1522 L615,1533 L613,1541 L603,1546 L594,1552 L589,1560 L580,1566 L572,1568 L578,1558 L577,1550 L571,1541 L580,1531 L591,1521 L599,1511Z " fill="none" stroke="#4a4f52" stroke-width="2" stroke-linejoin="round"/>
<g fill="none" stroke="#4a4f52" stroke-linejoin="round" stroke-linecap="round">
<path d="M562,1528 L548,1537 L541,1548 L528,1558 L516,1566 L506,1574 L496,1580 L483,1584 L470,1587 L464,1592 L451,1597 L440,1601 L435,1606 L425,1609" stroke-width="3.2"/>
<path d="M606,1500 L613,1506 L620,1513 L611,1522 L615,1533 L613,1541 L603,1546 L594,1552 L589,1560 L580,1566 L572,1568 L578,1558 L577,1550 L571,1541 L580,1531 L591,1521 L599,1511 L606,1500" stroke-width="3"/>
<path d="M594,1552 L600,1540 L608,1528 L612,1522" stroke-width="3"/>
<path d="M583,1545 L592,1535 L600,1524" stroke-width="3"/>
<path d="M685,1457 L678,1462 L666,1457 L654,1456 L652,1462 L647,1468 L642,1474 L634,1480 L625,1484 L619,1486 L615,1482" stroke-width="3"/>
<path d="M638,1418 L645,1412 L652,1411" stroke-width="2.5"/>
<path d="M642,1424 L652,1428 L658,1431" stroke-width="2.5"/>
<path d="M425,1609 L414,1611 L403,1614 L394,1615 L392,1609" stroke-width="3"/>
<path d="M470,1579 L466,1575 L451,1578" stroke-width="3"/>
<path d="M853,1446 L855,1437 L862,1428 L868,1429 L873,1436 L883,1443 L894,1450 L906,1459 L915,1469 L927,1479 L937,1488 L945,1497 L957,1503 L968,1504 L982,1506 L986,1516 L991,1527 L990,1539 L986,1549" stroke-width="3"/>
<path d="M800,1451 L802,1440 L800,1427 L806,1424 L808,1434" stroke-width="3"/>
</g>
<g fill="#6a6f72" stroke="#4a4f52" stroke-width="2">
<path d="M400,1604 L395,1612 L389,1620 L375,1622 L352,1626 L330,1633 L315,1641 L306,1647 L303,1645 L312,1637 L327,1629 L349,1621 L368,1616 L385,1613 L394,1603Z"/>
<path d="M233,1649 L225,1646 L215,1643 L211,1636 L205,1640 L195,1639 L185,1637 L176,1633 L170,1637 L160,1635 L150,1631 L140,1628 L137,1624 L142,1623 L152,1628 L163,1633 L176,1640 L190,1642 L205,1645 L218,1648 L230,1651Z"/>
<path d="M672,1421 L677,1416 L681,1424 L679,1433 L684,1440 L685,1448 L681,1454 L685,1458 L677,1463 L670,1455 L668,1441 L663,1434 L667,1430Z"/>
<path d="M299.3,1643 L298.8,1644.8 L296.7,1645.9 L294.2,1645.4 L292.3,1644 L291.8,1641.9 L294,1640.4 L296.6,1640.6 L299.2,1641Z"/>
<path d="M280.7,1645 L280.3,1646.3 L278.6,1647.2 L276.8,1646.4 L275.2,1645.7 L275,1644.3 L276.3,1643 L278.5,1643.1 L280.2,1643.8Z"/>
<path d="M269.3,1647 L268.6,1648.1 L267.5,1649.3 L265.8,1648.7 L264.8,1647.6 L264.4,1646.3 L266,1645.6 L267.4,1645 L268.9,1645.7Z"/>
<path d="M246,1645 L245.3,1646.4 L243.7,1647.9 L241.4,1647 L239,1646 L239.6,1644.1 L241.2,1642.7 L243.6,1642.7 L246,1643.2Z"/>
<path d="M128.3,1622 L127.6,1623.4 L126.3,1623.7 L124.9,1623.8 L124.2,1622.6 L124.2,1621.4 L125.1,1620.4 L126.3,1620.4 L127.8,1620.5Z"/>
<path d="M118.5,1635 L117.4,1636 L115.4,1636.2 L113.3,1636.5 L111.9,1635.6 L112.1,1634.5 L113.3,1633.6 L115.6,1633.3 L117.6,1633.9Z"/>
<path d="M103.8,1607 L103,1609.1 L100.7,1610.2 L98.3,1609.5 L96.1,1608.2 L96.9,1606 L98.5,1604.7 L100.6,1604.1 L102.1,1605.5Z"/>
<path d="M86.4,1613.6 L87.4,1617.8 L87.8,1620.8 L86.8,1622.7 L83.2,1619.1 L80.9,1613.9 L78.9,1608.9 L80,1607.1 L83.2,1610.1Z"/>
<path d="M78.8,1596 L78.2,1597.2 L76.4,1597.6 L74.5,1597.7 L73.1,1596.7 L73.5,1595.4 L74.4,1594.1 L76.5,1594.2 L77.9,1594.9Z"/>
<path d="M67.4,1589.8 L67.7,1592 L64.4,1593.3 L61.2,1594.2 L58.5,1593.3 L57.9,1591.2 L60,1589.2 L63.1,1587.5 L65.7,1588.6Z"/>
<path d="M43.5,1566.7 L43.2,1567.9 L42,1568.3 L40.9,1568.2 L40.1,1567.3 L39.8,1566 L40.6,1564.7 L42.1,1564.4 L43.4,1565.3Z"/>
<path d="M8.1,1531.8 L6.9,1534.5 L2.7,1533.4 L-0.9,1532.2 L-3.9,1529.2 L-1.6,1526.9 L1.6,1526.3 L5,1527.1 L8.7,1529.1Z"/>
<path d="M17.6,1542.1 L15.9,1541.8 L14.4,1541.6 L13,1540 L12.9,1538.8 L12.9,1537.5 L14.7,1538.4 L16.6,1539.1 L17.9,1540.9Z"/>
<path d="M7.1,1546 L6,1547.5 L4,1549.3 L0.8,1548.3 L-1.3,1546.9 L-2.7,1544.8 L0.8,1543.7 L3.7,1543.5 L6.9,1544Z"/>
<path d="M322.3,1512.6 L321.4,1514.1 L319.7,1515.5 L317.2,1516.4 L315.3,1515.9 L314.5,1514.7 L315.7,1512.9 L318.5,1511.5 L321.1,1511.6Z"/>
<path d="M327.6,1534.2 L327.1,1535.6 L324.7,1535.4 L322.8,1533.8 L321.5,1532.2 L322.7,1531.3 L324.1,1530.7 L326.3,1531.6 L328.6,1533Z"/>
<path d="M310.1,1404.6 L312.4,1409 L312.5,1411.7 L310.6,1411.6 L307.6,1409.8 L304.4,1405.1 L302.2,1400.3 L304.6,1400.5 L306.4,1399.8Z"/>
<path d="M362.5,1322.4 L357.2,1323.2 L352.8,1323.1 L346.3,1322 L343.7,1317.6 L346.5,1315.1 L350.3,1313.5 L355.7,1315.5 L361.3,1318.3Z"/>
<path d="M485.4,1596 L483.8,1598.6 L480.8,1599.5 L477,1600.1 L475.6,1597.3 L476.1,1594.9 L477.3,1592.2 L481,1591.3 L483.8,1593.5Z"/>
<path d="M492.4,1606 L491.5,1609.1 L488.2,1611.5 L483.6,1610.9 L482.1,1607.5 L480.1,1603.9 L484.3,1602.2 L488.2,1600.5 L490.9,1603.3Z"/>
<path d="M495.2,1612 L495,1613.9 L492.8,1615.6 L490.2,1614.4 L487.6,1613.2 L489.1,1611.2 L490.4,1609.9 L492.8,1608.5 L494.6,1610.4Z"/>
<path d="M481.4,1590 L480.4,1591.5 L478.6,1592.7 L475.9,1592.7 L474.7,1590.9 L473.8,1588.8 L476.2,1587.6 L478.7,1586.9 L480.5,1588.4Z"/>
<path d="M539.9,1577 L539.5,1579.5 L538.4,1581.4 L536.9,1580.8 L536.2,1578.3 L535.9,1575.5 L536.8,1572.9 L538.4,1573 L539.6,1574.3Z"/>
<path d="M559,1587 L558.2,1588.9 L556.4,1589.1 L554.7,1589.3 L553.9,1587.8 L553.9,1586.2 L554.6,1584.5 L556.4,1584.8 L558.2,1585.2Z"/>
<path d="M436.5,1622 L433.7,1622.5 L431,1622.4 L427.8,1621.2 L426.2,1619.2 L427.8,1618.1 L429.3,1617 L432.4,1618.3 L436,1619.8Z"/>
<path d="M733.7,1453 L732,1454.5 L730.7,1454.8 L728.9,1454.9 L729.7,1452.2 L731.1,1449.9 L732.7,1449 L733.9,1449.3 L734.4,1450.7Z"/>
<path d="M853,1474 L862,1470 L875,1468 L890,1476 L903,1484 L915,1494 L928,1503 L942,1512 L956,1520 L970,1522 L980,1530 L986,1540 L986,1549 L974,1547 L964,1555 L954,1562 L941,1557 L928,1546 L910,1533 L903,1523 L887,1513 L878,1504 L864,1488 L859,1479Z"/>
</g>
<g fill="#E7B168">
<path d="M868,1476 L878,1484 L889,1496 L884,1498 L874,1488 L866,1480Z"/>
<path d="M895,1492 L905,1500 L915,1510 L911,1513 L900,1503 L892,1496Z"/>
<path d="M920,1512 L932,1520 L940,1530 L935,1532 L926,1523 L917,1516Z"/>
<path d="M948,1525 L958,1532 L962,1542 L957,1543 L951,1535 L945,1529Z"/>
<path d="M968,1530 L976,1536 L980,1545 L975,1545 L970,1538 L965,1533Z"/>
</g>
<g fill="none" stroke="#4a4f52" stroke-linecap="round" stroke-linejoin="round">
<path d="M866,1440 L876,1452 L888,1462" stroke-width="3"/>
<path d="M880,1450 L892,1462 L905,1474 L918,1486" stroke-width="3"/>
<path d="M900,1466 L914,1480 L928,1492 L940,1503" stroke-width="2.5"/>
<path d="M930,1488 L945,1502 L960,1512" stroke-width="2.5"/>
<path d="M858,1460 L868,1468 L880,1476" stroke-width="2.5"/>
</g>
<text x="401.5" y="88.3" font-size="100" textLength="1349.5" lengthAdjust="spacingAndGlyphs">8-14 Day Temperature Outlook</text>
<text x="759.3" y="163.3" font-size="42" class="b" textLength="109" lengthAdjust="spacingAndGlyphs">Valid:</text>
<text x="895" y="163.3" font-size="42" textLength="405" lengthAdjust="spacingAndGlyphs">August 19 - 25, 2023</text>
<text x="759.3" y="211.7" font-size="42" class="b" textLength="147.4" lengthAdjust="spacingAndGlyphs">Issued:</text>
<text x="932.3" y="211.7" font-size="42" textLength="314.4" lengthAdjust="spacingAndGlyphs">August 11, 2023</text>
<text x="996.5" y="977.5" font-size="50" class="b halo" textLength="150" lengthAdjust="spacingAndGlyphs">Above</text>
<text x="1954.7" y="289" font-size="45.5" class="b halo" textLength="105.7" lengthAdjust="spacingAndGlyphs">Near</text>
<text x="1925.7" y="346.4" font-size="45.5" class="b halo" textLength="162.6" lengthAdjust="spacingAndGlyphs">Normal</text>
<text x="561" y="1312.7" font-size="36" class="b halo" textLength="83.7" lengthAdjust="spacingAndGlyphs">Near</text>
<text x="540" y="1356" font-size="36" class="b halo" textLength="126" lengthAdjust="spacingAndGlyphs">Normal</text>
<text x="682.5" y="1443" font-size="36.5" class="b halo" textLength="113.5" lengthAdjust="spacingAndGlyphs">Above</text>
<text x="325" y="1351.3" font-size="36" class="b halo" textLength="108.3" lengthAdjust="spacingAndGlyphs">Below</text>
<text x="1191" y="1281" font-size="33.5" class="b" textLength="496" lengthAdjust="spacingAndGlyphs">Probability (Percent Chance)</text>
<text x="1177.8" y="1327" font-size="23.5" class="b" textLength="183.3" lengthAdjust="spacingAndGlyphs">Above Normal</text>
<text x="1522" y="1324.8" font-size="23.5" class="b" textLength="180" lengthAdjust="spacingAndGlyphs">Below Normal</text>
<rect x="1176.6" y="1359" width="62.4" height="26.4" fill="#E7B168" stroke="#6e6e6e" stroke-width="1.8"/>
<rect x="1640.8" y="1357.2" width="62" height="26.4" fill="#BFCCE4" stroke="#6e6e6e" stroke-width="1.8"/>
<text x="1254.4" y="1380.3" font-size="24" textLength="87.5" lengthAdjust="spacingAndGlyphs">33-40%</text>
<text x="1536.9" y="1378.5" font-size="24" textLength="87.5" lengthAdjust="spacingAndGlyphs">33-40%</text>
<rect x="1176.6" y="1402.9" width="62.4" height="26.4" fill="#E38B4B" stroke="#6e6e6e" stroke-width="1.8"/>
<rect x="1640.8" y="1401.3" width="62" height="26.4" fill="#A0C0DF" stroke="#6e6e6e" stroke-width="1.8"/>
<text x="1254.4" y="1424.2" font-size="24" textLength="87.5" lengthAdjust="spacingAndGlyphs">40-50%</text>
<text x="1536.9" y="1422.6" font-size="24" textLength="87.5" lengthAdjust="spacingAndGlyphs">40-50%</text>
<rect x="1176.6" y="1447.3" width="62.4" height="26.4" fill="#DC562F" stroke="#6e6e6e" stroke-width="1.8"/>
<rect x="1640.8" y="1445.4" width="62" height="26.4" fill="#77B5E2" stroke="#6e6e6e" stroke-width="1.8"/>
<text x="1254.4" y="1468.6" font-size="24" textLength="87.5" lengthAdjust="spacingAndGlyphs">50-60%</text>
<text x="1536.9" y="1466.7" font-size="24" textLength="87.5" lengthAdjust="spacingAndGlyphs">50-60%</text>
<rect x="1176.6" y="1491.2" width="62.4" height="26.4" fill="#C72E28" stroke="#6e6e6e" stroke-width="1.8"/>
<rect x="1640.8" y="1489.4" width="62" height="26.4" fill="#389FDC" stroke="#6e6e6e" stroke-width="1.8"/>
<text x="1254.4" y="1512.5" font-size="24" textLength="87.5" lengthAdjust="spacingAndGlyphs">60-70%</text>
<text x="1536.9" y="1510.7" font-size="24" textLength="87.5" lengthAdjust="spacingAndGlyphs">60-70%</text>
<rect x="1176.6" y="1535" width="62.4" height="26.4" fill="#CC3047" stroke="#6e6e6e" stroke-width="1.8"/>
<rect x="1640.8" y="1534.2" width="62" height="26.4" fill="#005DA1" stroke="#6e6e6e" stroke-width="1.8"/>
<text x="1254.4" y="1556.3" font-size="24" textLength="87.5" lengthAdjust="spacingAndGlyphs">70-80%</text>
<text x="1536.9" y="1555.5" font-size="24" textLength="87.5" lengthAdjust="spacingAndGlyphs">70-80%</text>
<rect x="1176.6" y="1578.9" width="62.4" height="26.4" fill="#8A2F38" stroke="#6e6e6e" stroke-width="1.8"/>
<rect x="1640.8" y="1578.3" width="62" height="26.4" fill="#2F1E80" stroke="#6e6e6e" stroke-width="1.8"/>
<text x="1254.4" y="1600.2" font-size="24" textLength="87.5" lengthAdjust="spacingAndGlyphs">80-90%</text>
<text x="1536.9" y="1599.6" font-size="24" textLength="87.5" lengthAdjust="spacingAndGlyphs">80-90%</text>
<rect x="1176.6" y="1622.6" width="62.4" height="26.4" fill="#622228" stroke="#6e6e6e" stroke-width="1.8"/>
<rect x="1640.8" y="1622.3" width="62" height="26.4" fill="#221852" stroke="#6e6e6e" stroke-width="1.8"/>
<text x="1254.4" y="1643.9" font-size="24" textLength="101.5" lengthAdjust="spacingAndGlyphs">90-100%</text>
<text x="1522.9" y="1643.6" font-size="24" textLength="101.5" lengthAdjust="spacingAndGlyphs">90-100%</text>
<rect x="1407" y="1512" width="62" height="26.6" fill="#A0A0A0" stroke="#6e6e6e" stroke-width="1.8"/>
<text x="1409.5" y="1449" font-size="23.5" class="b" textLength="59.2" lengthAdjust="spacingAndGlyphs">Near</text>
<text x="1393" y="1480.6" font-size="23.5" class="b" textLength="91.4" lengthAdjust="spacingAndGlyphs">Normal</text>
<text x="1000.4" y="1382.5" font-size="28.5" textLength="114" lengthAdjust="spacingAndGlyphs">Leaning</text>
<text x="1012.2" y="1419.6" font-size="28.5" textLength="90.5" lengthAdjust="spacingAndGlyphs">Above</text>
<text x="1016.6" y="1537.1" font-size="28.5" textLength="81.4" lengthAdjust="spacingAndGlyphs">Likely</text>
<text x="1012.5" y="1574.6" font-size="28.5" textLength="90.3" lengthAdjust="spacingAndGlyphs">Above</text>
<text x="1770" y="1383" font-size="28.5" textLength="114.3" lengthAdjust="spacingAndGlyphs">Leaning</text>
<text x="1785.6" y="1419.4" font-size="28.5" textLength="84.3" lengthAdjust="spacingAndGlyphs">Below</text>
<text x="1786.9" y="1537.1" font-size="28.5" textLength="81.2" lengthAdjust="spacingAndGlyphs">Likely</text>
<text x="1785.2" y="1574.8" font-size="28.5" textLength="85.3" lengthAdjust="spacingAndGlyphs">Below</text>
<path d="M1166.2,1354.9 C1154.2,1354.9 1146.1,1360.5 1143.4,1371 L1142,1376 C1140.6,1387.3 1132.4,1392.1 1120.4,1393.3 " fill="none" stroke="#1f1f1f" stroke-width="1.3" stroke-linecap="round"/>
<path d="M1166.2,1432.9 C1154.2,1432.9 1146.1,1427.1 1143.4,1416.3 L1142,1411.1 C1140.6,1399.5 1132.4,1394.5 1120.4,1393.3 " fill="none" stroke="#1f1f1f" stroke-width="1.3" stroke-linecap="round"/>
<path d="M1166.6,1448 C1154.7,1448 1146.6,1456.4 1143.9,1472 L1142.4,1523.6 C1140.9,1540.5 1132.2,1548.4 1119.6,1549.6 " fill="none" stroke="#1f1f1f" stroke-width="2" stroke-linecap="round"/>
<path d="M1166.6,1652.7 C1154.7,1652.7 1146.6,1644.3 1143.9,1628.7 L1142.4,1575.6 C1140.9,1558.7 1132.2,1550.8 1119.6,1549.6 " fill="none" stroke="#1f1f1f" stroke-width="2" stroke-linecap="round"/>
<path d="M1715.8,1355 C1727.2,1355 1734.8,1360.7 1737.3,1371.4 L1738.4,1376.5 C1739.5,1387.9 1746,1392.8 1755.5,1394 " fill="none" stroke="#1f1f1f" stroke-width="1.3" stroke-linecap="round"/>
<path d="M1715.8,1432.6 C1727.2,1432.6 1734.8,1426.9 1737.3,1416.4 L1738.4,1411.4 C1739.5,1400.1 1746,1395.2 1755.5,1394 " fill="none" stroke="#1f1f1f" stroke-width="1.3" stroke-linecap="round"/>
<path d="M1715.9,1446.4 C1727.8,1446.4 1735.9,1454.8 1738.4,1470.4 L1739.5,1522.7 C1740.6,1539.6 1747,1547.5 1756.4,1548.7 " fill="none" stroke="#1f1f1f" stroke-width="2" stroke-linecap="round"/>
<path d="M1715.9,1651.5 C1727.8,1651.5 1735.9,1643.1 1738.4,1627.5 L1739.5,1574.7 C1740.6,1557.8 1747,1549.9 1756.4,1548.7 " fill="none" stroke="#1f1f1f" stroke-width="2" stroke-linecap="round"/>

<g>
<circle cx="198.5" cy="58.8" r="61.7" fill="#1c8fd1"/>
<circle cx="198.5" cy="58.8" r="47.4" fill="#fff"/>
<defs>
<path id="sealtop" d="M146.5,58.8 A52,52 0 0 1 250.5,58.8"/>
<path id="sealbot" d="M140.3,58.8 A58.2,58.2 0 0 0 256.7,58.8"/>
</defs>
<text font-size="9.5" class="b" fill="#8fdcf7" letter-spacing="0.3"><textPath href="#sealtop" startOffset="50%" text-anchor="middle">DEPARTMENT OF COMMERCE</textPath></text>
<text font-size="9.5" class="b" fill="#8fdcf7" letter-spacing="0.3"><textPath href="#sealbot" startOffset="50%" text-anchor="middle">UNITED STATES OF AMERICA</textPath></text>
<circle cx="143.6" cy="59.5" r="1.2" fill="#8fdcf7"/><circle cx="253.4" cy="59.5" r="1.2" fill="#8fdcf7"/>
<!-- eagle -->
<path d="M182.7,19.4 C186,30 190,38 196,42 L195,44.5 L189,45.5 L189,47 L209,47 L209,45.5 L203,44.5 L202,42 C208,38 212,30 215.5,19.4 C210,24 205,28 202,33 C200,30 197,30 195.5,33 C192,28 188,24 182.7,19.4Z" fill="#3a2a12"/>
<path d="M196.5,31 C198,29 200,29 201.5,31 L202,42 L196,42Z" fill="#a88622"/>
<path d="M196,28.5 h6 v4 h-6z" fill="#d8d8d0"/>
<!-- shield -->
<path d="M172.2,49.3 H225.2 L223.5,52.5 H221.9 V92 C221.9,96 214,97 206,99 C202,100 200,101 198.6,102.2 C197,101 195,100 191,99 C183,97 175.6,96 175.6,92 V52.5 H174Z" fill="#10324f"/>
<path d="M176.6,52.5 H220.9 V72 H176.6Z" fill="#1c8fd1"/>
<path d="M176.6,72 H220.9 V76 H176.6Z" fill="#0d2b45"/>
<path d="M176.6,76 H220.9 V91.5 C220.9,95 213,96 205.5,98 C202,99 200,100 198.6,101 C197,100 195,99 191.5,98 C184,96 176.6,95 176.6,91.5Z" fill="#e9c312"/>
<path d="M197.4,76 h2.4 v22 h-2.4z" fill="#1d1a16"/><path d="M196.4,96 h4.4 v2.6 h-4.4z" fill="#1d1a16"/>
<path d="M177,66 L195,54 L199,57 L203,54 L207,57 L210,54 L214,66 L212,68 L186,68Z" fill="#15466e"/>
<path d="M183.5,63 L196,58 L210,58 L212,66 L192,66.5 L186,64.5Z" fill="#e8eef2"/>
<path d="M192,58 v8 M197,57 v9 M202,57 v9 M207,58 v8 M186,62 h24" stroke="#1a3a55" stroke-width="1" fill="none"/>
</g>

<g transform="translate(1880,0) scale(0.07459)">
<path d="M350,300 A832,832 0 0 1 1690,290 C1600,345 1500,450 1400,620 C1320,790 1230,900 1050,950 C900,910 800,800 700,670 C600,530 480,360 350,300Z" fill="#0a2f94"/>
<path d="M215,570 C300,585 380,670 460,770 C560,890 660,950 790,975 C880,992 960,1000 985,1010 C950,1045 860,1080 790,1100 L815,1142 C900,1142 1000,1100 1090,1055 C1180,1010 1290,990 1392,987 L1380,955 C1320,950 1250,950 1205,945 C1300,880 1390,780 1480,680 C1570,570 1690,470 1775,435 A832,832 0 1 1 215,570Z" fill="#0a86d1"/>
</g>
<text x="1956.5" y="38.8" font-size="22.5" class="b" fill="#fff" text-anchor="middle" textLength="50" lengthAdjust="spacingAndGlyphs">NOAA</text>

</svg></body></html>
